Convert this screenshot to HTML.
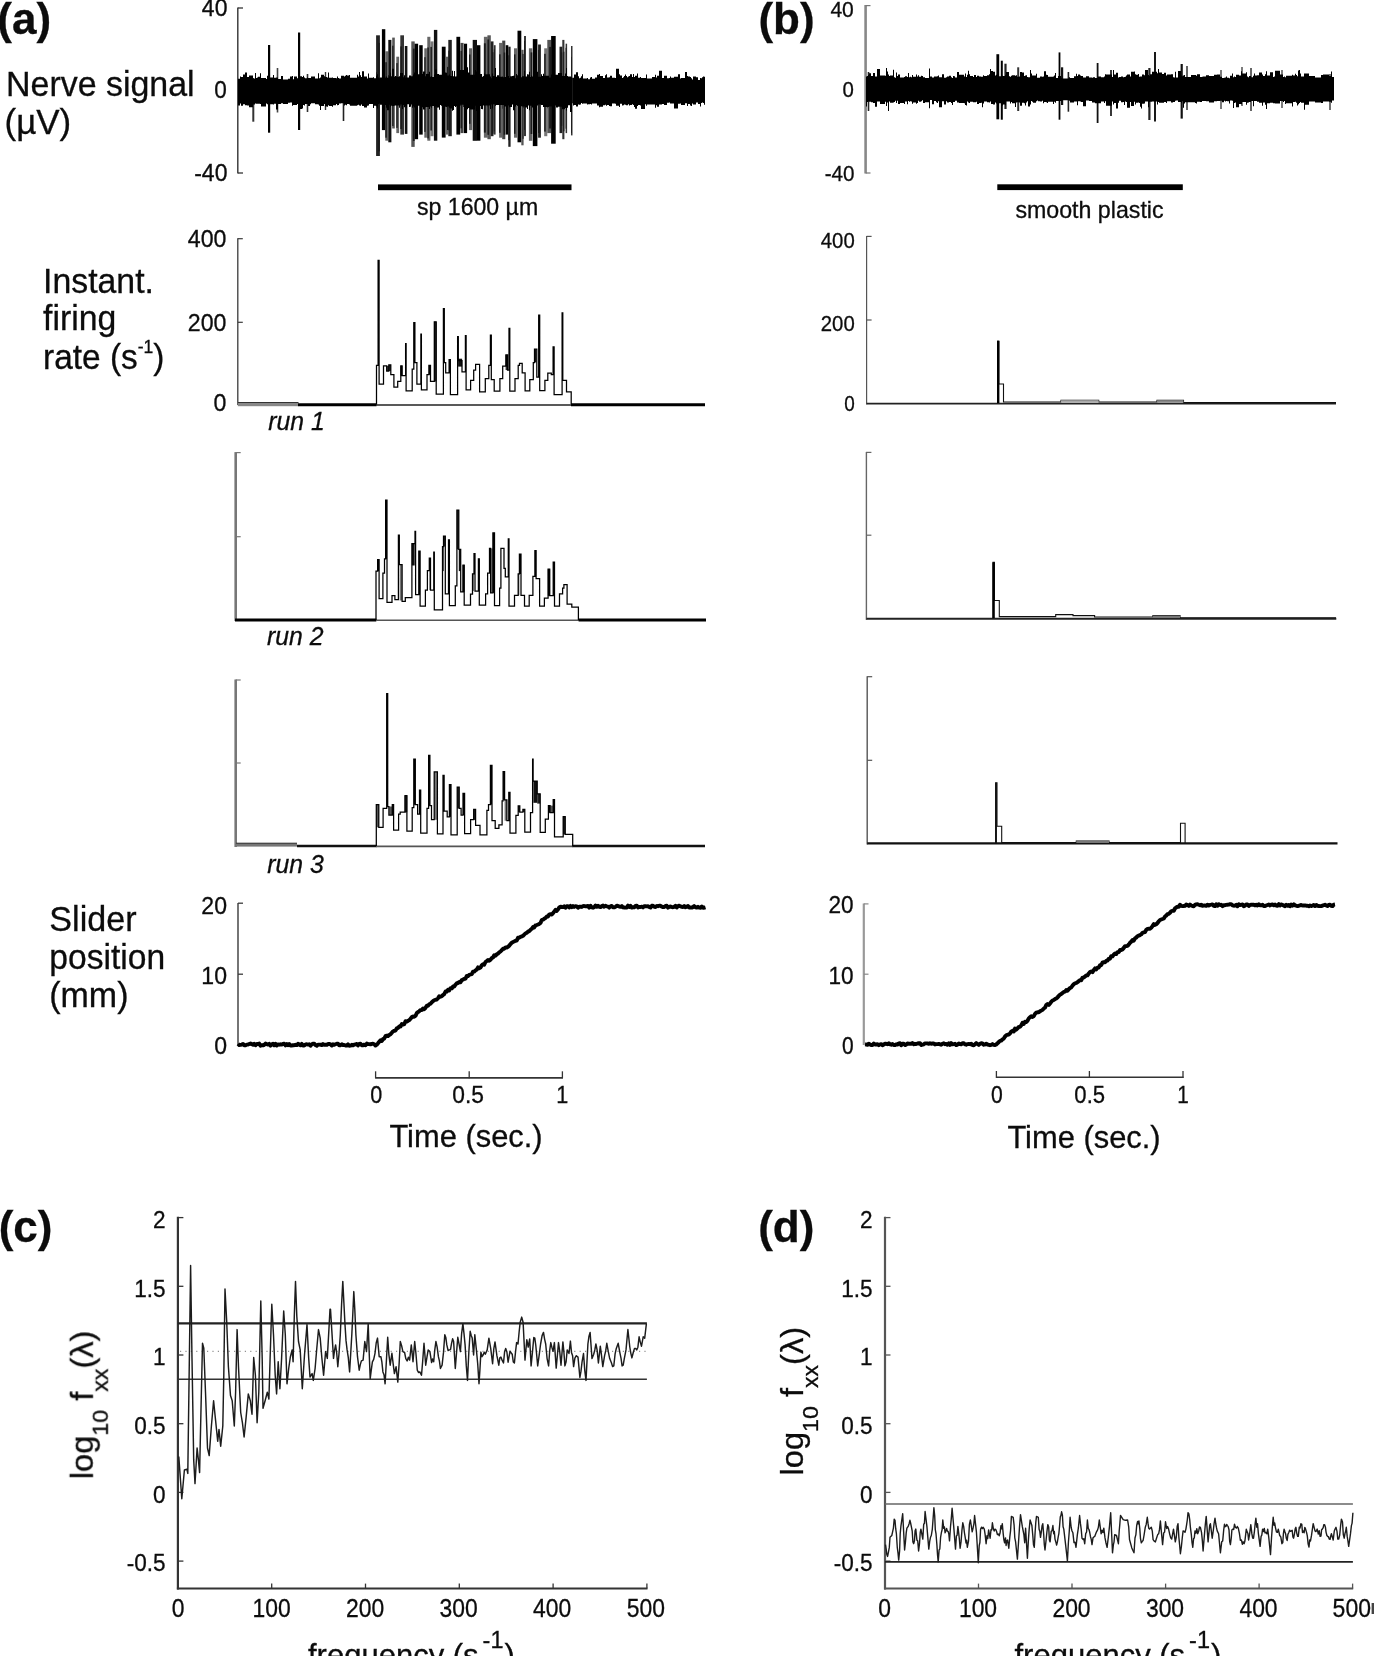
<!DOCTYPE html>
<html lang="en"><head><meta charset="utf-8"><title>Nerve signal figure</title>
<style>html,body{margin:0;padding:0;background:#fff}body{width:1374px;height:1656px;overflow:hidden}svg{display:block}text{font-family:"Liberation Sans",Arial,Helvetica,sans-serif;fill:#0c0c0c;stroke:#0c0c0c;stroke-width:.3px}</style></head><body>
<svg width="1374" height="1656" viewBox="0 0 1374 1656">
<rect width="1374" height="1656" fill="#fff"/>
<defs><filter id="soft" x="0" y="0" width="100%" height="100%" filterUnits="userSpaceOnUse" color-interpolation-filters="sRGB"><feGaussianBlur stdDeviation="0.42"/></filter></defs>
<g filter="url(#soft)">
<text x="-2.7" y="34" font-size="44" font-weight="bold">(a)</text>
<text x="758.4" y="34.3" font-size="44" font-weight="bold">(b)</text>
<text x="-1.3" y="1242.2" font-size="44" font-weight="bold">(c)</text>
<text x="758.2" y="1242.2" font-size="44" font-weight="bold">(d)</text>
<text transform="translate(6,96) scale(0.99,1)" font-size="34.3">Nerve signal</text>
<text transform="translate(4.5,134.3) scale(1.02,1)" font-size="34.3">(µV)</text>
<text transform="translate(43,292.5) scale(0.987,1)" font-size="34.3">Instant.</text>
<text transform="translate(43,329.6) scale(0.985,1)" font-size="34.3">firing</text>
<text transform="translate(43,369.3) scale(0.975,1)" font-size="34.3">rate (s<tspan font-size="18" dy="-16.5">-1</tspan><tspan dy="16.5">)</tspan></text>
<text transform="translate(49.3,931) scale(0.995,1)" font-size="34.3">Slider</text>
<text transform="translate(49.3,969.2) scale(0.98,1)" font-size="34.3">position</text>
<text transform="translate(49.3,1007.4) scale(0.99,1)" font-size="34.3">(mm)</text>
<line x1="237.8" y1="7.5" x2="237.8" y2="173.5" stroke="#333" stroke-width="1.4" />
<line x1="238" y1="8" x2="243" y2="8" stroke="#333" stroke-width="1.3" />
<line x1="238" y1="173" x2="243" y2="173" stroke="#333" stroke-width="1.3" />
<text transform="translate(227.5,16.3) scale(0.96,1)" font-size="24" text-anchor="end">40</text>
<text transform="translate(226.8,97.6) scale(0.94,1)" font-size="24" text-anchor="end">0</text>
<text transform="translate(227.5,181.2) scale(0.96,1)" font-size="24" text-anchor="end">-40</text>
<path stroke="#333" stroke-width="2" fill="none" d="M253.3 78V121.7"/>
<path stroke="#000" stroke-width="2.2" fill="none" d="M269.1 45V132.7"/>
<path stroke="#000" stroke-width="2.2" fill="none" d="M299.1 32.5V130"/>
<path stroke="#222" stroke-width="1.6" fill="none" d="M343.5 80V121"/>
<path stroke="#444" stroke-width="1.6" fill="none" d="M277.5 68V112.5"/>
<path stroke="#333" stroke-width="1.6" fill="none" d="M307.5 74V112"/>
<path stroke="#333" stroke-width="1.4" fill="none" d="M325.5 72V110"/>
<path fill="#000" d="M238 91V78.7H239V78.7H240V76.5H241V77H242V77H243V74.6H244V74.6H245V72.6H246V72.6H247V76.9H248V76.9H249V75.4H250V75.4H251V75.4H252V75.4H253V78.8H254V78.8H255V72.9H256V78H257V77.5H258V76.8H259V76.8H260V73.2H261V77.9H262V77.9H263V77.9H264V77.9H265V77.9H266V79.1H267V75.7H268V77.6H269V77.6H270V77.6H271V77.6H272V77.6H273V75.1H274V77.7H275V77.7H276V77.6H277V77.6H278V79.1H279V79.1H280V79.1H281V75.9H282V75.9H283V79.5H284V79.5H285V79.5H286V79.5H287V79.5H288V78.7H289V78.7H290V76.6H291V76.6H292V76.1H293V79.2H294V76.5H295V76.5H296V76.5H297V78.3H298V76.2H299V76.2H300V76.2H301V76.2H302V77.1H303V75.8H304V77.5H305V78.2H306V78.2H307V77.4H308V78.1H309V78.1H310V78H311V76.5H312V76.5H313V76.5H314V76.5H315V78.6H316V78.6H317V78.6H318V73.3H319V78.2H320V77.5H321V74.7H322V74.7H323V74.7H324V76.3H325V76.9H326V76.9H327V77.4H328V72.6H329V77.8H330V77.8H331V77.8H332V77.5H333V77.9H334V77.9H335V77.9H336V78.3H337V76.6H338V77.9H339V78.6H340V78.6H341V75.8H342V75.8H343V75.8H344V76.5H345V75.7H346V74.9H347V75.5H348V75.5H349V74.9H350V77.7H351V77.7H352V77.7H353V77.7H354V77.7H355V77.7H356V77.7H357V74.8H358V76.4H359V72H360V75.3H361V77.1H362V71.3H363V71.3H364V76.6H365V76.6H366V76.6H367V78.4H368V73.5H369V77.8H370V77.8H371V77.8H372V77.8H373V77.3H374V78.3H375V78.3H376V72.2H377V76.7H378V76.4H379V77.5H380V77.5H381V77.5H382V76.7H383V74.8H384V77.8H385V76.5H386V75.2H387V75.2H388V75.2H389V75.2H390V76.3H391V76.3H392V76.3H393V78.5H394V79.1H395V76H396V76H397V76H398V79H399V79H400V79.4H401V74.8H402V76.6H403V77.3H404V76.7H405V76.7H406V77H407V78.6H408V78.6H409V78.6H410V78.6H411V78.6H412V78.6H413V74.9H414V74.9H415V74.9H416V74.9H417V74.9H418V79.5H419V79.5H420V79.5H421V78.5H422V74.3H423V76.8H424V76.8H425V76.2H426V76.2H427V73.5H428V79.3H429V79.3H430V79.3H431V78.4H432V78.4H433V77.3H434V77.8H435V74.7H436V74.7H437V74.7H438V74.7H439V74.7H440V74.7H441V74.7H442V76.4H443V77.1H444V76H445V76H446V76H447V77.4H448V77.4H449V76.2H450V76.2H451V76.2H452V78.9H453V77.9H454V77.9H455V77.7H456V76.8H457V76.8H458V76.8H459V76.8H460V76.8H461V76.8H462V74.9H463V77.9H464V76.5H465V71.3H466V71.3H467V75.6H468V76.7H469V76.2H470V76.8H471V76.8H472V75.2H473V75.2H474V76H475V77.9H476V77.7H477V78.2H478V78.3H479V73.9H480V73.9H481V73.9H482V77.5H483V75.9H484V76.6H485V77.9H486V77.9H487V75.5H488V77.1H489V73.4H490V77.4H491V77.7H492V77.7H493V76.9H494V76.9H495V76.9H496V77.1H497V75.3H498V75.3H499V75.3H500V78H501V78.3H502V76.6H503V76.6H504V73.4H505V77.2H506V78.7H507V78.4H508V78.4H509V78.4H510V78.7H511V78.7H512V75.9H513V75.9H514V75.9H515V76.6H516V75.2H517V75.2H518V75.2H519V75.2H520V78H521V78H522V76.3H523V77.6H524V77.4H525V76.9H526V77.2H527V77.2H528V74.4H529V74.4H530V74.4H531V79H532V78.5H533V78.3H534V78.3H535V78.3H536V78.3H537V78.3H538V78.3H539V78.3H540V78.3H541V78.9H542V78.9H543V73.7H544V76.8H545V76.8H546V76.7H547V78.2H548V78.8H549V78.2H550V78.2H551V74.5H552V76.8H553V78H554V77.2H555V77.2H556V78H557V78H558V78H559V77.8H560V76.7H561V77.7H562V79.2H563V79.2H564V79.2H565V79H566V79H567V79H568V77.4H569V78.7H570V76.6H571V76.6H572V77.7H573V77.7H574V74.6H575V74.6H576V72.2H577V72.2H578V76.2H579V78.3H580V77.7H581V76.2H582V74.2H583V78.4H584V78.4H585V78.4H586V78.4H587V77.9H588V79.3H589V79.3H590V77.4H591V77.1H592V78.7H593V78.7H594V78.7H595V77.4H596V77.4H597V74.7H598V74.7H599V74H600V76.1H601V76.1H602V76.1H603V77.9H604V77.9H605V75.2H606V74.3H607V77.4H608V77.4H609V77.3H610V75.7H611V75.7H612V77.7H613V77.7H614V77.7H615V78H616V68.8H617V68.8H618V68.8H619V74.2H620V75.6H621V75.6H622V78.1H623V77.2H624V76H625V74.6H626V75.9H627V77.3H628V76.5H629V76H630V74.3H631V74.3H632V77H633V73.9H634V77.1H635V75.8H636V75.8H637V73.4H638V77.7H639V77.7H640V76.9H641V77.9H642V77.9H643V77.9H644V77.9H645V77.9H646V74.6H647V78.6H648V78.6H649V78.6H650V78.6H651V78.6H652V77.1H653V77.1H654V77.1H655V74.7H656V77.4H657V75.8H658V75.8H659V70.7H660V70.7H661V70.7H662V78H663V78H664V75.7H665V75.7H666V75.7H667V78.3H668V78.3H669V77.9H670V76.6H671V77.7H672V77.7H673V77.7H674V76.7H675V76.7H676V76.7H677V76.7H678V74.2H679V74.2H680V78.6H681V77.9H682V77.9H683V77.9H684V77.9H685V72H686V72H687V76H688V76.4H689V76.4H690V76.9H691V78.3H692V79.4H693V76.4H694V76.4H695V76.4H696V77.3H697V77.3H698V79.9H699V79.9H700V78.1H701V78.3H702V77.3H703V76.6H704V76.7H705V91V104.7H704V103.1H703V102.6H702V103H701V106.5H700V104H699V104H698V102.6H697V102.6H696V104.6H695V104.6H694V104.6H693V103.6H692V105.9H691V105.6H690V103.9H689V103.9H688V106H687V103.2H686V103.2H685V104.9H684V104.9H683V104.9H682V104.9H681V103.4H680V103.8H679V103.8H678V108.5H677V108.5H676V108.5H675V108.5H674V103.5H673V103.5H672V103.5H671V103.6H670V102.5H669V102.8H668V102.8H667V104.9H666V104.9H665V104.9H664V104H663V104H662V104.6H661V104.6H660V104.6H659V106.8H658V106.8H657V105.3H656V107.7H655V104.4H654V104.4H653V104.4H652V104.5H651V104.5H650V104.5H649V104.5H648V104.5H647V105.7H646V104.3H645V108.9H644V108.9H643V108.9H642V108.9H641V105.5H640V105.1H639V105.1H638V106H637V108.7H636V108.7H635V107H634V104.9H633V104.3H632V105H631V105H630V105.4H629V104.3H628V105.3H627V105.3H626V104.7H625V104.5H624V105.2H623V105.6H622V103.8H621V103.8H620V106.9H619V105.7H618V105.7H617V105.7H616V103.8H615V103.6H614V103.6H613V103.6H612V106.2H611V106.2H610V106.1H609V104.9H608V104.9H607V105.8H606V104.8H605V105.2H604V105.2H603V106.7H602V106.7H601V106.7H600V107.3H599V105.6H598V105.6H597V103.6H596V103.6H595V103.4H594V103.4H593V103.4H592V104.5H591V103.9H590V104.3H589V104.3H588V104.5H587V103.6H586V103.6H585V103.6H584V103.6H583V103.7H582V102.9H581V104.4H580V104.8H579V104.4H578V106.5H577V106.5H576V104.9H575V104.9H574V105.6H573V103.2H572V108.7H571V108.7H570V103.5H569V104.7H568V103.6H567V103.6H566V103.6H565V103.3H564V103.3H563V103.3H562V103.8H561V105.7H560V105.8H559V103.6H558V103.6H557V103.6H556V103.3H555V103.3H554V102.9H553V107.5H552V103.2H551V105.2H550V105.2H549V106.6H548V108.2H547V104.3H546V103.7H545V103.7H544V104.5H543V105.1H542V105.1H541V103H540V103H539V103H538V103H537V103H536V103H535V103H534V103H533V106H532V104.9H531V103.3H530V103.3H529V103.3H528V104.2H527V104.2H526V105H525V108.7H524V107.7H523V103.6H522V105.1H521V105.1H520V105.4H519V105.4H518V105.4H517V105.4H516V105.9H515V104.6H514V104.6H513V104.6H512V105.7H511V105.7H510V103.4H509V103.4H508V103.4H507V108.1H506V104.7H505V108.7H504V108.8H503V108.8H502V106.8H501V103.6H500V104.9H499V104.9H498V104.9H497V104.2H496V104.3H495V104.3H494V104.3H493V105.4H492V105.4H491V105.4H490V106.1H489V107.3H488V107H487V106.1H486V106.1H485V104H484V105.4H483V109.2H482V103.5H481V103.5H480V103.5H479V104.1H478V103.7H477V105.1H476V104H475V103.8H474V106.2H473V106.2H472V105.5H471V105.5H470V105.4H469V106.8H468V109.3H467V105.6H466V105.6H465V107H464V107H463V105.6H462V105.8H461V105.8H460V105.8H459V105.8H458V105.8H457V105.8H456V107.1H455V103.6H454V103.6H453V103.1H452V105.4H451V105.4H450V105.4H449V104.3H448V104.3H447V105.8H446V105.8H445V105.8H444V106.4H443V103.7H442V104.6H441V104.6H440V104.6H439V104.6H438V107.3H437V107.3H436V107.3H435V108.2H434V104.7H433V104.5H432V104.5H431V102.6H430V102.6H429V102.6H428V103.6H427V103H426V103H425V105.5H424V105.5H423V102.3H422V105.9H421V103.7H420V103.7H419V103.7H418V104.3H417V104.3H416V104.3H415V104.3H414V104.3H413V103.3H412V103.3H411V103.3H410V103.3H409V103.3H408V103.3H407V103.2H406V102.9H405V102.9H404V103.9H403V103.2H402V103.7H401V105.9H400V107.8H399V107.8H398V102.6H397V102.6H396V102.6H395V106H394V103.8H393V104.8H392V104.8H391V104.8H390V103.7H389V103.7H388V103.7H387V103.7H386V104H385V107.6H384V105.4H383V105.8H382V103.9H381V103.9H380V103.9H379V106.1H378V104.6H377V104.2H376V105.7H375V105.7H374V108H373V103.9H372V103.9H371V103.9H370V103.9H369V105.6H368V105.8H367V107.5H366V107.5H365V107.5H364V106H363V106H362V104.6H361V105.7H360V105.4H359V104.8H358V105.2H357V105.8H356V105.8H355V105.8H354V105.8H353V105.8H352V105.8H351V105.8H350V104.6H349V104H348V104H347V105.2H346V104.8H345V105.6H344V103.3H343V103.3H342V103.3H341V103.5H340V103.5H339V105H338V105.2H337V104.1H336V105.2H335V105.2H334V105.2H333V106.8H332V106H331V106H330V106H329V105.3H328V106.7H327V106.5H326V106.5H325V103.9H324V106.1H323V106.1H322V106.1H321V110H320V105.7H319V104.5H318V104.3H317V104.3H316V104.3H315V103.2H314V103.2H313V103.2H312V103.2H311V104.3H310V106H309V106H308V104H307V104H306V104H305V105.5H304V105.1H303V108.4H302V109.1H301V109.1H300V109.1H299V109.1H298V104H297V105.1H296V105.1H295V105.1H294V104.9H293V105.7H292V102.4H291V102.4H290V102.8H289V102.8H288V103.9H287V103.9H286V103.9H285V103.9H284V103.9H283V103.3H282V103.3H281V104H280V104H279V104H278V109.6H277V109.6H276V103.7H275V103.7H274V104.5H273V104.2H272V104.2H271V104.2H270V104.2H269V104.2H268V104.2H267V103.5H266V106.5H265V106.5H264V106.5H263V106.5H262V106.5H261V104.1H260V103.7H259V103.7H258V103.8H257V103.7H256V103.4H255V104.6H254V104.6H253V107.3H252V107.3H251V107.3H250V107.3H249V105.6H248V105.6H247V105.2H246V105.2H245V104.3H244V104.3H243V105.7H242V105.7H241V103.4H240V105.6H239V105.6H238Z"/>
<rect x="376.1" y="35.3" width="3.8" height="120.7" fill="#222"/>
<rect x="378" y="42.9" width="1.9" height="108.4" fill="#1a1a1a"/>
<rect x="381.9" y="29.2" width="3.4" height="100.9" fill="#000"/>
<rect x="385.3" y="51.3" width="3.1" height="89.4" fill="#666"/>
<rect x="385.3" y="62.2" width="1.5" height="75.5" fill="#1a1a1a"/>
<rect x="388.3" y="39.9" width="3.1" height="102.4" fill="#111"/>
<rect x="392.2" y="37.6" width="2.6" height="90.9" fill="#555"/>
<rect x="392.2" y="45.7" width="1.3" height="80.3" fill="#1a1a1a"/>
<rect x="396.3" y="56.7" width="2.8" height="76.4" fill="#666"/>
<rect x="396.3" y="63.1" width="1.4" height="64.8" fill="#1a1a1a"/>
<rect x="400.3" y="35.3" width="3.7" height="99.3" fill="#333"/>
<rect x="400.3" y="46.4" width="1.8" height="82.6" fill="#1a1a1a"/>
<rect x="404.8" y="46" width="2.6" height="87.9" fill="#111"/>
<rect x="411.3" y="41.4" width="3.4" height="105.5" fill="#555"/>
<rect x="412.9" y="48.6" width="1.7" height="92.4" fill="#1a1a1a"/>
<rect x="414.6" y="43.7" width="3.5" height="95.5" fill="#000"/>
<rect x="419.2" y="45.2" width="3.5" height="89.4" fill="#000"/>
<rect x="424.3" y="48.3" width="2.6" height="89.4" fill="#666"/>
<rect x="424.3" y="57.2" width="1.3" height="74.7" fill="#1a1a1a"/>
<rect x="427.3" y="36.8" width="3.1" height="103.9" fill="#666"/>
<rect x="427.3" y="47.5" width="1.5" height="90.9" fill="#1a1a1a"/>
<rect x="430.4" y="41.4" width="3.1" height="94.8" fill="#777"/>
<rect x="430.4" y="46.9" width="1.5" height="83.6" fill="#1a1a1a"/>
<rect x="433.9" y="29.9" width="3.4" height="110.8" fill="#111"/>
<rect x="441.8" y="46.7" width="3.8" height="90.9" fill="#000"/>
<rect x="445.7" y="56.7" width="2.6" height="77.9" fill="#666"/>
<rect x="447" y="66.9" width="1.3" height="63.1" fill="#1a1a1a"/>
<rect x="448.3" y="39.9" width="3.5" height="96.3" fill="#222"/>
<rect x="448.3" y="50.6" width="1.8" height="79.7" fill="#1a1a1a"/>
<rect x="456.4" y="36.8" width="3.8" height="97.8" fill="#000"/>
<rect x="460.5" y="42.9" width="3.1" height="90.2" fill="#444"/>
<rect x="460.5" y="50.9" width="1.5" height="77.4" fill="#1a1a1a"/>
<rect x="464" y="43.7" width="3.1" height="89.4" fill="#000"/>
<rect x="469" y="48.3" width="3.1" height="81.8" fill="#666"/>
<rect x="469" y="54.5" width="1.5" height="69.3" fill="#1a1a1a"/>
<rect x="472.7" y="39.9" width="4.3" height="100.9" fill="#111"/>
<rect x="477" y="45.2" width="3.4" height="95.5" fill="#000"/>
<rect x="483.9" y="36.8" width="3.8" height="100.9" fill="#666"/>
<rect x="483.9" y="43.3" width="1.9" height="89.3" fill="#1a1a1a"/>
<rect x="487.4" y="35.3" width="3.4" height="103.9" fill="#555"/>
<rect x="487.4" y="39.5" width="1.7" height="95.3" fill="#1a1a1a"/>
<rect x="490.7" y="41.4" width="2.8" height="94.8" fill="#222"/>
<rect x="492.1" y="52.2" width="1.4" height="81.6" fill="#1a1a1a"/>
<rect x="493.8" y="45.2" width="1.8" height="89.4" fill="#333"/>
<rect x="493.8" y="49.4" width="0.9" height="82" fill="#1a1a1a"/>
<rect x="499.1" y="42.9" width="3.1" height="94.8" fill="#666"/>
<rect x="499.1" y="54.3" width="1.5" height="78.5" fill="#1a1a1a"/>
<rect x="502.2" y="40.6" width="3.1" height="98.6" fill="#444"/>
<rect x="503.7" y="52.5" width="1.5" height="82.2" fill="#1a1a1a"/>
<rect x="505.7" y="45.2" width="2.6" height="89.4" fill="#000"/>
<rect x="508.3" y="46.7" width="2.3" height="100.1" fill="#222"/>
<rect x="508.3" y="55.3" width="1.1" height="84.9" fill="#1a1a1a"/>
<rect x="514" y="48.3" width="3.1" height="89.4" fill="#666"/>
<rect x="514" y="54.4" width="1.5" height="79.4" fill="#1a1a1a"/>
<rect x="517.5" y="30.7" width="3.8" height="111.6" fill="#000"/>
<rect x="521.3" y="49.8" width="2.3" height="95.5" fill="#555"/>
<rect x="522.5" y="53.9" width="1.1" height="84.9" fill="#1a1a1a"/>
<rect x="524.1" y="36" width="1.8" height="100.1" fill="#222"/>
<rect x="524.1" y="41" width="0.9" height="88.9" fill="#1a1a1a"/>
<rect x="528.9" y="48.3" width="3.4" height="92.5" fill="#666"/>
<rect x="530.6" y="52.4" width="1.7" height="81.6" fill="#1a1a1a"/>
<rect x="532.8" y="39.1" width="4.6" height="107" fill="#000"/>
<rect x="538.1" y="44.5" width="2.8" height="93.2" fill="#222"/>
<rect x="538.1" y="49.9" width="1.4" height="83.1" fill="#1a1a1a"/>
<rect x="544.2" y="48.3" width="3.1" height="87.9" fill="#777"/>
<rect x="544.2" y="53.8" width="1.5" height="77.8" fill="#1a1a1a"/>
<rect x="547.3" y="39.9" width="3.8" height="93.2" fill="#555"/>
<rect x="549.2" y="46.9" width="1.9" height="81.6" fill="#1a1a1a"/>
<rect x="551.1" y="36" width="4.6" height="107.7" fill="#000"/>
<rect x="559.5" y="46.7" width="2.8" height="86.4" fill="#222"/>
<rect x="560.9" y="52.4" width="1.4" height="73.5" fill="#1a1a1a"/>
<rect x="562.3" y="39.9" width="2.1" height="99.3" fill="#333"/>
<rect x="563.3" y="51.7" width="1.1" height="79.6" fill="#1a1a1a"/>
<rect x="565.6" y="43.7" width="1.5" height="89.4" fill="#333"/>
<rect x="565.6" y="47.8" width="0.8" height="80.9" fill="#1a1a1a"/>
<rect x="571" y="46" width="1.5" height="89.4" fill="#333"/>
<rect x="571" y="56.8" width="0.8" height="76.3" fill="#1a1a1a"/>
<path fill="#000" d="M376 91V75.8H377V74.2H378V77.6H379V78.2H380V78.4H381V78.4H382V74H383V77.8H384V77.8H385V77.8H386V76.6H387V77.7H388V77.7H389V76.3H390V72.7H391V77.2H392V68.8H393V68.8H394V76.8H395V76.8H396V76.8H397V76.8H398V76.8H399V76.2H400V73.1H401V73.1H402V72.9H403V77.2H404V75.3H405V77.7H406V77.4H407V77.6H408V77.6H409V75.6H410V75.4H411V76.3H412V76.2H413V74.5H414V72.6H415V72.6H416V72.6H417V74.3H418V74.3H419V74.3H420V74.5H421V74.5H422V74H423V71.6H424V71.6H425V76.2H426V74H427V74H428V74H429V71.8H430V76.7H431V76.3H432V77.1H433V77.1H434V74.4H435V69.6H436V69.6H437V73.9H438V73.9H439V76.1H440V75H441V75.4H442V73.2H443V72.6H444V72.6H445V72.6H446V72.8H447V75.4H448V75.4H449V74.5H450V76H451V76H452V70.7H453V76.2H454V70.9H455V76.6H456V76.6H457V75.6H458V74.9H459V74.9H460V69.9H461V69.9H462V69.9H463V69.9H464V69.9H465V75.7H466V67.3H467V67.3H468V72.5H469V72.5H470V74.7H471V74.7H472V74.7H473V74.7H474V74.7H475V70.1H476V71.6H477V73.4H478V75.1H479V75.1H480V75.1H481V76.8H482V76.8H483V77H484V73.4H485V74.2H486V74.2H487V74.2H488V74.2H489V74.2H490V76.5H491V78.2H492V73.4H493V76H494V76H495V67.9H496V76.8H497V76.8H498V76.8H499V76.8H500V76.8H501V76.8H502V76.8H503V77.3H504V76.9H505V76.9H506V76.9H507V76H508V76H509V77.9H510V76.2H511V76.2H512V76.1H513V75.8H514V75.8H515V78.2H516V74H517V78.3H518V78.3H519V78.3H520V77.3H521V77.3H522V76.3H523V76.3H524V70.7H525V76.6H526V76.6H527V74.3H528V76.6H529V71.7H530V77H531V75.4H532V76.5H533V76.6H534V71.8H535V71.8H536V71.8H537V71.8H538V76.7H539V76.7H540V76.7H541V74.2H542V76.1H543V75.7H544V75.7H545V75.7H546V75.7H547V75.7H548V75.7H549V77.4H550V77.4H551V77.4H552V77.4H553V68H554V68H555V74.8H556V74.7H557V74.7H558V73.1H559V73.1H560V73.1H561V73.1H562V76H563V76H564V76H565V73.5H566V68H567V75.9H568V76.5H569V76.5H570V77.2H571V77.2H572V91V111.9H571V111.9H570V105.3H569V105.3H568V107.8H567V110.4H566V108H565V109.2H564V109.2H563V109.2H562V106.7H561V106.7H560V106.7H559V106.7H558V107.4H557V107.4H556V105.6H555V105.5H554V105.5H553V106.6H552V106.6H551V106.6H550V106.6H549V107.1H548V107.1H547V107.1H546V107.1H545V107.1H544V107.1H543V105.1H542V104.7H541V104.5H540V104.5H539V104.5H538V105.5H537V105.5H536V105.5H535V105.5H534V104.8H533V107.6H532V105.8H531V105.8H530V110.3H529V105.4H528V108.9H527V107.5H526V107.5H525V106.6H524V106.4H523V106.4H522V106.3H521V106.3H520V105.7H519V105.7H518V105.7H517V105H516V106.5H515V110.3H514V110.3H513V103.7H512V107H511V107H510V107.3H509V105.4H508V105.4H507V106.6H506V106.6H505V106.6H504V105H503V104.9H502V104.9H501V104.9H500V104.9H499V104.9H498V104.9H497V104.9H496V105.8H495V104.3H494V104.3H493V108.5H492V104.6H491V109.1H490V105.5H489V105.5H488V105.5H487V105.5H486V105.5H485V105.8H484V105H483V109H482V109H481V105.9H480V105.9H479V105.9H478V111.9H477V111H476V105.8H475V109.5H474V109.5H473V109.5H472V109.5H471V109.5H470V108.1H469V108.1H468V105.4H467V105.4H466V105.4H465V104.8H464V104.8H463V104.8H462V104.8H461V104.8H460V107.9H459V107.9H458V106.2H457V106.3H456V106.3H455V106H454V109.9H453V110.8H452V108.5H451V108.5H450V107.7H449V106.6H448V106.6H447V107H446V106.7H445V106.7H444V106.7H443V105.9H442V105.8H441V105.1H440V109.7H439V107.5H438V107.5H437V106.5H436V106.5H435V107.7H434V105.9H433V105.9H432V107.8H431V106.6H430V109.1H429V106.9H428V106.9H427V106.9H426V107.3H425V109.4H424V109.4H423V107.2H422V106.1H421V106.1H420V105.8H419V105.8H418V105.8H417V107.5H416V107.5H415V107.5H414V106.3H413V107.8H412V104.6H411V106.8H410V107H409V104.3H408V104.3H407V107.5H406V106.3H405V107.2H404V105.1H403V109H402V104.6H401V104.6H400V105.2H399V105.6H398V105.6H397V105.6H396V105.6H395V105.6H394V105.9H393V105.9H392V105.7H391V106.8H390V104.8H389V110.2H388V110.2H387V107.7H386V104.9H385V104.9H384V104.9H383V104H382V104.7H381V104.7H380V103.6H379V104.1H378V108.5H377V106.2H376Z"/>
<rect x="378" y="184.4" width="193.5" height="5.8" fill="#000"/>
<text x="417" y="214.8" font-size="23.1">sp 1600 µm</text>
<line x1="865.6" y1="5" x2="865.6" y2="173.5" stroke="#888" stroke-width="2.6" />
<line x1="865.6" y1="5.6" x2="870.5" y2="5.6" stroke="#777" stroke-width="1.2" />
<line x1="865.6" y1="173" x2="870.5" y2="173" stroke="#777" stroke-width="1.2" />
<text transform="translate(853.8,16.6) scale(0.98,1)" font-size="21.5" text-anchor="end">40</text>
<text transform="translate(853.8,97.3) scale(0.95,1)" font-size="21.5" text-anchor="end">0</text>
<text transform="translate(854.5,180.6) scale(0.96,1)" font-size="21.5" text-anchor="end">-40</text>
<path stroke="#000" stroke-width="2.8" fill="none" d="M997.8 54.2V119.3"/>
<path stroke="#000" stroke-width="2" fill="none" d="M1001.8 60.7V119.7"/>
<path stroke="#222" stroke-width="2.2" fill="none" d="M1005.5 63.7V109"/>
<path stroke="#333" stroke-width="2" fill="none" d="M1018.2 67.3V111"/>
<path stroke="#000" stroke-width="1.8" fill="none" d="M1059.5 52.4V119.7"/>
<path stroke="#111" stroke-width="2.2" fill="none" d="M1062.1 67.3V105"/>
<path stroke="#222" stroke-width="1.6" fill="none" d="M1068.4 72V111.7"/>
<path stroke="#111" stroke-width="1.8" fill="none" d="M1097.6 63V123"/>
<path stroke="#222" stroke-width="1.8" fill="none" d="M1111 70V116"/>
<path stroke="#222" stroke-width="2.2" fill="none" d="M1149.4 68V120"/>
<path stroke="#000" stroke-width="1.8" fill="none" d="M1155 52V121.5"/>
<path stroke="#111" stroke-width="2.2" fill="none" d="M1181.7 64V118.6"/>
<path stroke="#333" stroke-width="1.5" fill="none" d="M1187 66V110"/>
<path stroke="#333" stroke-width="1.5" fill="none" d="M1251 68V111"/>
<path stroke="#222" stroke-width="1.6" fill="none" d="M868.5 72V111"/>
<path stroke="#333" stroke-width="1.4" fill="none" d="M1330 74V110"/>
<path stroke="#444" stroke-width="1.4" fill="none" d="M1282 70V108"/>
<path stroke="#444" stroke-width="1.4" fill="none" d="M1221 70V109"/>
<path stroke="#444" stroke-width="1.4" fill="none" d="M1242 67V106"/>
<path fill="#000" d="M866 89.2V76.4H867V75.9H868V75.1H869V73.3H870V73.3H871V76H872V76H873V72.9H874V72.9H875V76.6H876V76.6H877V68.9H878V68.9H879V68.9H880V75.5H881V75.5H882V75.5H883V75.5H884V75.5H885V75.7H886V68H887V71.6H888V74.6H889V75.9H890V75.6H891V75.6H892V75.6H893V69.8H894V77.3H895V77.7H896V72.6H897V76H898V74.4H899V74.4H900V77.4H901V77.4H902V77.4H903V77.4H904V77H905V76.2H906V76.2H907V77H908V72.9H909V77.2H910V76.7H911V77.2H912V74.9H913V76.8H914V76.8H915V76.8H916V74.4H917V76.6H918V75.3H919V76.8H920V76.8H921V75.7H922V76H923V77.3H924V77.3H925V78.1H926V78.1H927V78.1H928V78.1H929V68.4H930V76.5H931V76.5H932V77.6H933V77.6H934V76.4H935V76.4H936V76.4H937V76.3H938V75.5H939V77.2H940V77.2H941V77.2H942V74.3H943V74.3H944V77.8H945V77.8H946V77.3H947V76.5H948V76.5H949V75.7H950V75.7H951V77.3H952V78H953V76H954V76.3H955V77.4H956V77.4H957V72H958V72H959V74.8H960V74.8H961V74.8H962V74.8H963V74.8H964V76.4H965V73.4H966V76.9H967V74.7H968V70.7H969V74.2H970V75.9H971V75.9H972V75.9H973V76.9H974V75H975V75H976V77H977V75.8H978V75.8H979V76.5H980V76.5H981V76.8H982V76.7H983V75.2H984V75.9H985V75.9H986V75.9H987V75.2H988V75.2H989V74.3H990V69H991V71.1H992V71.1H993V71.7H994V71.7H995V75.6H996V74.7H997V74.7H998V75.1H999V76.2H1000V76.2H1001V76.5H1002V75.7H1003V76H1004V76H1005V74.8H1006V72.1H1007V72.1H1008V72.1H1009V76.2H1010V76.7H1011V75.7H1012V75.2H1013V75.2H1014V75.2H1015V75.8H1016V75.3H1017V76.7H1018V76.7H1019V76.5H1020V71.9H1021V71.9H1022V72.6H1023V72.6H1024V75.9H1025V75.6H1026V75.2H1027V77.1H1028V77.2H1029V77.2H1030V69.9H1031V73.6H1032V75.4H1033V75.4H1034V75.4H1035V75.4H1036V73.8H1037V77.7H1038V77.8H1039V77.8H1040V76.5H1041V76.5H1042V76.8H1043V76.5H1044V71.3H1045V71.3H1046V74.8H1047V74.9H1048V76.7H1049V76.7H1050V76.7H1051V76.7H1052V76.7H1053V76.6H1054V75.6H1055V73.1H1056V77.9H1057V77.9H1058V75.9H1059V75.9H1060V75.9H1061V78.1H1062V78.4H1063V78.4H1064V78.4H1065V78.4H1066V78.4H1067V78.4H1068V78.4H1069V77.2H1070V78H1071V78H1072V78H1073V78H1074V76.2H1075V76.2H1076V73.8H1077V76.1H1078V74.4H1079V74.4H1080V75.4H1081V76H1082V76H1083V77.5H1084V77.5H1085V77.5H1086V76.3H1087V76.3H1088V76.3H1089V77.4H1090V77.4H1091V77.4H1092V77.8H1093V77.3H1094V77.3H1095V78.1H1096V78.1H1097V78.1H1098V76.4H1099V76.4H1100V76.4H1101V77.2H1102V77.2H1103V77.2H1104V76.6H1105V74.2H1106V74.4H1107V74.4H1108V74.4H1109V74.4H1110V74.4H1111V74.4H1112V77.1H1113V70.1H1114V74.5H1115V74.5H1116V72.7H1117V72.7H1118V77.4H1119V77H1120V77H1121V76.5H1122V76.5H1123V77.3H1124V76.9H1125V76.7H1126V75.6H1127V74.4H1128V74.4H1129V74.4H1130V76.4H1131V71.8H1132V71.8H1133V71.8H1134V71.5H1135V74.2H1136V74.7H1137V74.7H1138V74H1139V76.8H1140V76.6H1141V76.5H1142V74.5H1143V74.5H1144V75.2H1145V69.9H1146V69.9H1147V69.9H1148V75H1149V76H1150V74.2H1151V74.2H1152V71.7H1153V71.7H1154V71.7H1155V71.7H1156V71.7H1157V73.2H1158V69.1H1159V72.4H1160V72.4H1161V72.4H1162V73.9H1163V73.9H1164V72.8H1165V72.8H1166V75.4H1167V74.4H1168V74.4H1169V74.4H1170V74.4H1171V74.2H1172V74.2H1173V77.2H1174V77.5H1175V71.7H1176V77.5H1177V77.5H1178V71.1H1179V71.1H1180V71.1H1181V75.7H1182V76.3H1183V75.4H1184V74.9H1185V76.9H1186V76.9H1187V76.9H1188V76.9H1189V76.9H1190V76.9H1191V74.9H1192V74.9H1193V74.9H1194V74.9H1195V75H1196V75.8H1197V74.2H1198V74.2H1199V74.2H1200V76.9H1201V76.9H1202V76.8H1203V76.5H1204V76.5H1205V76.5H1206V75.3H1207V75.3H1208V75.3H1209V76H1210V76H1211V76H1212V76H1213V76H1214V74.7H1215V74.7H1216V74.7H1217V74.4H1218V74.4H1219V74.4H1220V76.8H1221V76.8H1222V77.9H1223V77.9H1224V77.7H1225V77.6H1226V76.6H1227V77.8H1228V77.8H1229V78.2H1230V75.7H1231V75.7H1232V73.4H1233V77.2H1234V76.4H1235V77.1H1236V74.8H1237V74.8H1238V74.8H1239V75.6H1240V75.6H1241V71.3H1242V73.6H1243V73.6H1244V73.6H1245V73.6H1246V72.3H1247V76.6H1248V77.3H1249V76.1H1250V76.1H1251V77.3H1252V77.3H1253V75.7H1254V73.6H1255V75.5H1256V75.5H1257V75.2H1258V75.2H1259V72.4H1260V72.4H1261V72.4H1262V74.4H1263V75.9H1264V75.9H1265V74.2H1266V71.3H1267V75.5H1268V75.5H1269V75.5H1270V72.3H1271V72.3H1272V72.3H1273V76.9H1274V76.5H1275V70.7H1276V70.7H1277V70.7H1278V70.7H1279V70.7H1280V74.4H1281V74.4H1282V74.4H1283V76.9H1284V76.5H1285V77.2H1286V75.8H1287V75.8H1288V75.8H1289V75.8H1290V75.8H1291V75.8H1292V74.8H1293V75.6H1294V75.6H1295V73.8H1296V75H1297V76.3H1298V70.5H1299V70.1H1300V73.4H1301V76.4H1302V76.4H1303V76.4H1304V73.5H1305V73.6H1306V73.6H1307V73.6H1308V73.6H1309V75.9H1310V75.9H1311V75.9H1312V75.9H1313V75.9H1314V75.9H1315V77.6H1316V77.6H1317V77.6H1318V77.6H1319V77.6H1320V77.6H1321V75.1H1322V75.1H1323V74.4H1324V74.4H1325V74.4H1326V74.4H1327V74.4H1328V74.4H1329V75.9H1330V75.9H1331V71.4H1332V77H1333V77H1334V89.2V100.6H1333V100.6H1332V102.8H1331V101.7H1330V101.7H1329V101.4H1328V101.4H1327V101.4H1326V101.4H1325V101.4H1324V101.4H1323V103.1H1322V103.1H1321V102.5H1320V102.5H1319V102.5H1318V102.5H1317V102.5H1316V102.5H1315V101.6H1314V101.6H1313V101.6H1312V101.6H1311V101.6H1310V101.6H1309V104.7H1308V104.7H1307V104.7H1306V104.7H1305V109.8H1304V102.8H1303V102.8H1302V102.8H1301V102.1H1300V103.1H1299V104.3H1298V105.6H1297V102.7H1296V101.8H1295V101.9H1294V101.9H1293V106.4H1292V103.3H1291V103.3H1290V103.3H1289V103.3H1288V103.3H1287V103.3H1286V103.9H1285V101.1H1284V102.1H1283V101H1282V101H1281V101H1280V103.4H1279V103.4H1278V103.4H1277V103.4H1276V103.4H1275V103.2H1274V103.2H1273V102.7H1272V102.7H1271V102.7H1270V103.3H1269V103.3H1268V103.3H1267V108.9H1266V104.8H1265V102.5H1264V102.5H1263V105.8H1262V102.8H1261V102.8H1260V102.8H1259V101.8H1258V101.8H1257V100.9H1256V100.9H1255V101.1H1254V106.3H1253V101H1252V101H1251V101.9H1250V101.9H1249V102.6H1248V102.8H1247V104.7H1246V102.1H1245V102.1H1244V102.1H1243V102.1H1242V104.2H1241V103.9H1240V103.9H1239V107.2H1238V107.2H1237V107.2H1236V102.6H1235V103.1H1234V107.9H1233V100.8H1232V100.4H1231V100.4H1230V103.4H1229V101.3H1228V101.3H1227V100.9H1226V101.4H1225V100.7H1224V102.3H1223V102.3H1222V100.8H1221V100.8H1220V100.9H1219V100.9H1218V100.9H1217V101.2H1216V101.2H1215V101.2H1214V102.5H1213V102.5H1212V102.5H1211V102.5H1210V102.5H1209V101.3H1208V101.3H1207V101.3H1206V101H1205V101H1204V101H1203V100.9H1202V102H1201V102H1200V101.7H1199V101.7H1198V101.7H1197V103.5H1196V103H1195V102.2H1194V102.2H1193V102.2H1192V102.2H1191V102.3H1190V102.3H1189V102.3H1188V102.3H1187V102.3H1186V102.3H1185V103.6H1184V107.8H1183V101.3H1182V103.1H1181V102.1H1180V102.1H1179V102.1H1178V100.6H1177V100.6H1176V100.8H1175V102.1H1174V101.9H1173V102.5H1172V102.5H1171V101.2H1170V101.2H1169V101.2H1168V101.2H1167V103H1166V101.9H1165V101.9H1164V102.8H1163V102.8H1162V102.7H1161V102.7H1160V102.7H1159V102H1158V104.5H1157V101.6H1156V101.6H1155V101.6H1154V101.6H1153V101.6H1152V101.8H1151V101.8H1150V102H1149V107.2H1148V101.6H1147V101.6H1146V101.6H1145V103.4H1144V103.8H1143V103.8H1142V108.5H1141V106.7H1140V103.1H1139V102.6H1138V102.8H1137V102.8H1136V104.6H1135V101.8H1134V106H1133V106H1132V106H1131V102H1130V107.8H1129V107.8H1128V107.8H1127V102H1126V101.6H1125V104.9H1124V101.9H1123V102.3H1122V102.3H1121V100.8H1120V100.8H1119V102.7H1118V108.5H1117V108.5H1116V103H1115V103H1114V104.6H1113V101.5H1112V105.7H1111V105.7H1110V105.7H1109V105.7H1108V105.7H1107V105.7H1106V101.2H1105V102.9H1104V101.6H1103V101.6H1102V101.6H1101V103.2H1100V103.2H1099V103.2H1098V103.2H1097V103.2H1096V103.2H1095V102.4H1094V102.4H1093V102.4H1092V101.1H1091V101.1H1090V101.1H1089V100.5H1088V100.5H1087V100.5H1086V106.2H1085V106.2H1084V106.2H1083V102.1H1082V102.1H1081V101.4H1080V101.2H1079V101.2H1078V105.2H1077V101.6H1076V101.5H1075V101.5H1074V102.5H1073V102.5H1072V102.5H1071V102.5H1070V100.7H1069V100.2H1068V100.2H1067V100.2H1066V100.2H1065V100.2H1064V100.2H1063V100.2H1062V100.9H1061V101.1H1060V101.1H1059V101.1H1058V100.9H1057V100.9H1056V102.8H1055V101.8H1054V103.9H1053V101.8H1052V101.8H1051V101.8H1050V101.8H1049V101.8H1048V102.9H1047V102.2H1046V102H1045V102H1044V103.2H1043V100.7H1042V101.5H1041V101.5H1040V101.3H1039V101.3H1038V100.4H1037V101.2H1036V102.7H1035V102.7H1034V102.7H1033V101.7H1032V101.1H1031V104.5H1030V106.6H1029V106.6H1028V101.3H1027V102.6H1026V105.5H1025V103.2H1024V102.8H1023V102.8H1022V105.8H1021V105.8H1020V102.4H1019V102.2H1018V102.2H1017V102.4H1016V106.9H1015V103.2H1014V103.2H1013V103.2H1012V102.1H1011V103.6H1010V101.5H1009V101.6H1008V101.6H1007V101.6H1006V105.3H1005V104.5H1004V104.5H1003V105.5H1002V104.7H1001V103.3H1000V103.3H999V101.9H998V103.4H997V103.4H996V102.5H995V104.6H994V104.6H993V104.1H992V104.1H991V101.6H990V102.5H989V102.2H988V102.2H987V101.5H986V101.5H985V101.5H984V103.6H983V107.2H982V102.7H981V102.9H980V102.9H979V103.9H978V103.9H977V101.7H976V102.2H975V102.2H974V102.3H973V101.7H972V101.7H971V101.7H970V103H969V102.4H968V101.5H967V105.5H966V105.1H965V103.3H964V103.1H963V103.1H962V103.1H961V103.1H960V103.1H959V102.5H958V102.5H957V100.8H956V100.8H955V102H954V102.1H953V105H952V102.9H951V102.1H950V102.1H949V102.6H948V102.6H947V101.3H946V104.6H945V104.6H944V101.2H943V101.2H942V107.2H941V107.2H940V107.2H939V101.3H938V102.9H937V102.3H936V101H935V101H934V104.2H933V104.2H932V100.1H931V100.1H930V108.3H929V102.3H928V102.3H927V102.3H926V102.3H925V102.9H924V102.9H923V100.3H922V101.2H921V101.7H920V101.7H919V100.8H918V103H917V103.8H916V102.5H915V102.5H914V102.5H913V103.8H912V101.4H911V101.3H910V101.7H909V101H908V104.3H907V101.6H906V101.6H905V104.1H904V103.1H903V103.1H902V103.1H901V103.1H900V104H899V104H898V100.7H897V103.1H896V100.8H895V102H894V102.5H893V102.8H892V102.8H891V102.8H890V101.5H889V110.9H888V102.6H887V105.9H886V101.7H885V104H884V104H883V104H882V104H881V104H880V101.6H879V101.6H878V101.6H877V106.7H876V106.7H875V102.9H874V102.9H873V102.3H872V102.3H871V101.8H870V101.8H869V101.6H868V101.9H867V106.5H866Z"/>
<rect x="997.3" y="184.3" width="185.5" height="5.8" fill="#000"/>
<text x="1015.4" y="217.8" font-size="23.2">smooth plastic</text>
<line x1="237.8" y1="238.2" x2="237.8" y2="405" stroke="#3a3a3a" stroke-width="1.3" />
<line x1="237.8" y1="238.7" x2="242.8" y2="238.7" stroke="#3a3a3a" stroke-width="1.2" />
<line x1="237.8" y1="322.3" x2="242.8" y2="322.3" stroke="#3a3a3a" stroke-width="1.2" />
<text transform="translate(226.5,247.4) scale(0.965,1)" font-size="24" text-anchor="end">400</text>
<text transform="translate(226.5,330.7) scale(0.965,1)" font-size="24" text-anchor="end">200</text>
<text transform="translate(226.5,411.2) scale(0.965,1)" font-size="24" text-anchor="end">0</text>
<rect x="237.8" y="402.1" width="60.6" height="4.1" fill="#888"/>
<line x1="237.8" y1="402.5" x2="298.4" y2="402.5" stroke="#333" stroke-width="1" />
<line x1="298" y1="404.7" x2="376.5" y2="404.7" stroke="#000" stroke-width="3" />
<line x1="376" y1="405" x2="571.5" y2="405" stroke="#222" stroke-width="1.3" />
<line x1="571" y1="404.7" x2="705" y2="404.7" stroke="#000" stroke-width="3" />
<rect x="434" y="321.8" width="2.5" height="59.6" fill="#555"/>
<rect x="458.1" y="358.7" width="4" height="7.9" fill="#111"/>
<rect x="534.5" y="349.2" width="1.9" height="13.2" fill="#111"/>
<rect x="505.6" y="354.9" width="1.9" height="15.1" fill="#333"/>
<rect x="400.5" y="365.9" width="1.9" height="9.8" fill="#555"/>
<rect x="386.4" y="365.9" width="2.5" height="5.1" fill="#333"/>
<rect x="378.1" y="260.3" width="0.9" height="105" fill="#000"/>
<rect x="388.8" y="364.9" width="2" height="6.1" fill="#222"/>
<rect x="400.8" y="365.9" width="1.3" height="9.8" fill="#000"/>
<rect x="405.6" y="343.5" width="0.5" height="32.2" fill="#000"/>
<rect x="413.8" y="322.7" width="1.1" height="39.7" fill="#000"/>
<rect x="420.9" y="334.1" width="0.5" height="50.1" fill="#000"/>
<rect x="428.9" y="365.3" width="1.6" height="9.5" fill="#000"/>
<rect x="434.3" y="321.8" width="1.9" height="59.6" fill="#222"/>
<rect x="443.4" y="308.5" width="0.8" height="53.9" fill="#000"/>
<rect x="449.1" y="359.6" width="1.3" height="13.2" fill="#000"/>
<rect x="457.6" y="336.5" width="0.7" height="24" fill="#000"/>
<rect x="465.4" y="335.6" width="0.7" height="36.3" fill="#000"/>
<rect x="490.4" y="335" width="0.8" height="30.3" fill="#000"/>
<rect x="505.9" y="354.9" width="1.6" height="11.4" fill="#000"/>
<rect x="509" y="328.4" width="0.8" height="41.6" fill="#000"/>
<rect x="538.7" y="315.1" width="1" height="62.1" fill="#000"/>
<rect x="553.1" y="346.9" width="1" height="27.8" fill="#000"/>
<rect x="562.1" y="312.9" width="0.7" height="67.5" fill="#000"/>
<path fill="none" stroke="#000" stroke-width="1.25" stroke-linejoin="miter" d="M376.5 404.4H376.5V365.3H378.1V260.3H379.1V384.2H383.5V365.9H386.7V371H388.8V364.9H390.8V374.7H393.9V387H397.7V381.4H400.8V365.9H402.1V375.7H405.6V343.5H406.1V390.8H412.2V369.1H413.8V322.7H414.9V362.5H416.9V384.2H420.9V334.1H421.4V389.9H427V374.7H428.9V365.3H430.5V381.4H434.3V321.8H436.2V394.2H443.4V308.5H444.3V362.5H445.7V372.9H449.1V359.6H450.4V394.6H457.6V336.5H458.3V360.6H462V371.9H465.4V335.6H466.1V389.9H470.6V380.4H473.7V370H475.6V364.3H479.6V391.8H485.3V378.5H488.8V365.3H490.4V335H491.3V379.5H494.2V391.2H499.9V378.5H502.7V366.2H505.9V354.9H507.5V370H509V328.4H509.8V391.2H515V378.5H518.2V365.3H519.5V363.4H522.2V372.9H525.1V390.8H529.8V379.5H533.3V362.5H534.5V349.2H536.8V377.2H538.7V315.1H539.7V390.5H544.9V380.4H547.8V373.2H551.3V374.7H553.1V346.9H554.1V394.6H562.1V312.9H562.8V380.4H566.5V391.8H571.2V404.1"/>
<text transform="translate(268.2,429.9) scale(0.98,1)" font-size="25.3" font-style="italic">run 1</text>
<line x1="235.7" y1="452.1" x2="235.7" y2="621" stroke="#777" stroke-width="2.6" />
<line x1="235.7" y1="452.6" x2="240.7" y2="452.6" stroke="#777" stroke-width="1.2" />
<line x1="235.7" y1="536.7" x2="240.7" y2="536.7" stroke="#777" stroke-width="1.2" />
<line x1="235" y1="620.1" x2="376.3" y2="620.1" stroke="#000" stroke-width="3.0" />
<line x1="376" y1="620.2" x2="579" y2="620.2" stroke="#555" stroke-width="1.6" />
<line x1="578.6" y1="620.1" x2="706" y2="620.1" stroke="#000" stroke-width="3.0" />
<rect x="411.9" y="543.7" width="2.8" height="21.8" fill="#111"/>
<rect x="442.2" y="546.5" width="1.5" height="24.6" fill="#111"/>
<rect x="458.8" y="549.3" width="1.9" height="21.8" fill="#111"/>
<rect x="399.6" y="564.5" width="2.5" height="36" fill="#777"/>
<rect x="429.3" y="558.2" width="1.5" height="31.8" fill="#777"/>
<rect x="490.6" y="548.4" width="2.3" height="44.5" fill="#777"/>
<rect x="517.9" y="573.9" width="1.5" height="21.4" fill="#777"/>
<rect x="472.5" y="573.9" width="1.5" height="17" fill="#777"/>
<rect x="462.6" y="565" width="1.9" height="26.9" fill="#333"/>
<rect x="547.8" y="569.2" width="2.3" height="26.5" fill="#222"/>
<rect x="377.6" y="559.7" width="1.5" height="11.4" fill="#000"/>
<rect x="385.6" y="500.1" width="1.4" height="58.7" fill="#000"/>
<rect x="398.4" y="535.1" width="0.9" height="29.3" fill="#000"/>
<rect x="415" y="531.4" width="0.5" height="12.3" fill="#000"/>
<rect x="418.8" y="551.2" width="1.3" height="43.5" fill="#000"/>
<rect x="429.3" y="558.2" width="1.2" height="12.5" fill="#000"/>
<rect x="433.8" y="552.2" width="0.5" height="37.8" fill="#000"/>
<rect x="443.5" y="536.1" width="1.8" height="10.4" fill="#222"/>
<rect x="448.5" y="539.9" width="0.9" height="53.9" fill="#000"/>
<rect x="456.9" y="510.2" width="1.9" height="39.2" fill="#222"/>
<rect x="463" y="565" width="1.2" height="26.9" fill="#000"/>
<rect x="474" y="553.7" width="1" height="20.2" fill="#000"/>
<rect x="478.4" y="558.8" width="0.9" height="32.2" fill="#000"/>
<rect x="489.5" y="548.4" width="1.1" height="24.6" fill="#000"/>
<rect x="492.9" y="532.9" width="1.6" height="60" fill="#000"/>
<rect x="508.3" y="538.9" width="0.7" height="37.8" fill="#000"/>
<rect x="519.4" y="554.1" width="1.6" height="19.9" fill="#000"/>
<rect x="534.9" y="550.7" width="1.2" height="25.7" fill="#000"/>
<rect x="548.1" y="569.2" width="1.7" height="26.5" fill="#000"/>
<rect x="553.2" y="562" width="1.3" height="33.7" fill="#000"/>
<path fill="none" stroke="#000" stroke-width="1.25" stroke-linejoin="miter" d="M376 620H376V571.1H377.6V559.7H379.1V598.5H382.9V573H384.5V558.8H385.6V500.1H387V602.3H392V595.7H394.9V599.5H398.4V535.1H399.3V564.5H402.1V601.4H405.3V597.6H411.9V543.7H415V531.4H415.6V594.7H418.8V551.2H420.1V606.1H425.4V590H427.4V570.7H429.3V558.2H430.5V590H433.8V552.2H434.3V609.9H442.5V546.5H443.5V536.1H445.3V593.8H448.5V539.9H449.4V605.5H455.3V585.9H456.9V510.2H458.8V549.3H460.7V591.9H463V565H464.2V605.2H470.5V594.2H472.5V573.9H474V553.7H475V591H478.4V558.8H479.3V605.2H485.6V593.8H487.6V573H489.5V548.4H490.6V592.9H492.9V532.9H494.5V605.5H499.6V588.1H500.9V548.4H504V568.3H505.3V576.8H508.3V538.9H509V606.1H514.5V595.3H518.2V573.9H519.4V554.1H521V595.3H524.5V606.1H529.2V595.3H532.9V576.4H534.9V550.7H536.1V578.7H539.6V606.1H544.4V598H548.1V569.2H549.7V595.7H553.2V562H554.5V606.1H559.5V593.8H562.6V588.1H563.9V584.7H567.1V604.2H571.8V607H578.4V619.9"/>
<text transform="translate(267,645.4) scale(0.98,1)" font-size="25.3" font-style="italic">run 2</text>
<line x1="235.7" y1="679.5" x2="235.7" y2="847" stroke="#777" stroke-width="2.6" />
<line x1="235.7" y1="680" x2="240.7" y2="680" stroke="#777" stroke-width="1.2" />
<line x1="235.7" y1="763" x2="240.7" y2="763" stroke="#777" stroke-width="1.2" />
<rect x="236" y="843" width="61" height="3.6" fill="#777"/>
<line x1="236" y1="843.2" x2="297" y2="843.2" stroke="#333" stroke-width="1" />
<line x1="297" y1="846" x2="376.5" y2="846" stroke="#111" stroke-width="2.4" />
<line x1="376" y1="846.4" x2="573" y2="846.4" stroke="#555" stroke-width="1.6" />
<line x1="572.5" y1="846" x2="705" y2="846" stroke="#111" stroke-width="2.4" />
<rect x="434.2" y="771.9" width="3.2" height="47.9" fill="#777"/>
<rect x="533.4" y="781" width="3.8" height="21.8" fill="#111"/>
<rect x="537.2" y="793.8" width="3" height="9.8" fill="#222"/>
<rect x="404.7" y="795.7" width="2.5" height="16.5" fill="#111"/>
<rect x="562.9" y="816.5" width="2.6" height="17.8" fill="#777"/>
<rect x="389.2" y="806.5" width="2.8" height="8.5" fill="#555"/>
<rect x="504.6" y="799.9" width="2.3" height="20.8" fill="#777"/>
<rect x="473.4" y="809.3" width="2.5" height="10.4" fill="#333"/>
<rect x="376.3" y="804.6" width="2.5" height="22.7" fill="#555"/>
<rect x="550.4" y="805.6" width="2.5" height="7.2" fill="#555"/>
<rect x="386.7" y="693.5" width="1" height="113" fill="#000"/>
<rect x="392.3" y="804.6" width="1.3" height="10.4" fill="#000"/>
<rect x="405" y="795.7" width="1.9" height="16.5" fill="#222"/>
<rect x="413.8" y="759.2" width="1.5" height="45.4" fill="#000"/>
<rect x="419.5" y="790" width="1.2" height="24" fill="#000"/>
<rect x="428.6" y="755.4" width="1.3" height="50.1" fill="#000"/>
<rect x="443" y="775.3" width="1.1" height="36" fill="#000"/>
<rect x="449.4" y="784.7" width="1.6" height="32.2" fill="#000"/>
<rect x="457.2" y="787" width="2" height="21.4" fill="#222"/>
<rect x="463" y="793.3" width="1.6" height="21.8" fill="#000"/>
<rect x="473.7" y="809.3" width="1.9" height="10.4" fill="#222"/>
<rect x="490.4" y="765.4" width="1.6" height="39.2" fill="#000"/>
<rect x="503.1" y="771.5" width="1.5" height="28.4" fill="#000"/>
<rect x="508.8" y="792.3" width="1.2" height="28.4" fill="#000"/>
<rect x="518.2" y="805.9" width="1.6" height="6.2" fill="#000"/>
<rect x="522.9" y="809.3" width="1.9" height="2.8" fill="#222"/>
<rect x="532.6" y="759.2" width="0.5" height="21.8" fill="#000"/>
<rect x="548.4" y="805.6" width="1.7" height="7.2" fill="#000"/>
<rect x="553.2" y="799.5" width="1.3" height="13.2" fill="#000"/>
<rect x="563.2" y="816.5" width="2" height="17.8" fill="#222"/>
<path fill="none" stroke="#000" stroke-width="1.25" stroke-linejoin="miter" d="M376.3 846H376.3V804.6H378.8V827.3H383.1V808.4H386.7V693.5H387.7V806.5H388.9V815H392.3V804.6H393.6V830.2H398.6V814.1H400.2V812.2H405V795.7H406.9V831.1H412.2V807.5H413.8V759.2H415.3V804.6H417.6V814.1H419.5V790H420.7V833H427V808.4H428.6V755.4H429.9V805.6H431.5V819.7H434.2V771.9H437.4V833.9H443V775.3H444.1V811.2H447.2V816.9H449.4V784.7H451V834.9H457.2V787H459.2V808.4H461.1V815H463V793.3H464.6V833.6H470.6V819.7H473.7V809.3H475.6V825.4H480V834.9H486.9V810.3H488.5V804.6H490.4V765.4H492V820.7H495.2V828.3H498.9V824.9H502.1V800.8H503.1V771.5H504.6V799.9H506.9V820.7H508.8V792.3H510V833H515.9V815.4H518.2V805.9H519.8V812.2H522.9V809.3H524.8V832H530.5V812.7H532.6V759.2H533.1V781H537.2V793.8H540.2V832.4H545.3V819.2H548.4V805.6H550.1V812.7H553.2V799.5H554.5V836.8H563.2V816.5H565.2V834.3H572.7V846.2"/>
<text transform="translate(267.2,872.8) scale(0.98,1)" font-size="25.3" font-style="italic">run 3</text>
<line x1="866.6" y1="235.9" x2="866.6" y2="404.5" stroke="#555" stroke-width="1.2" />
<line x1="866.6" y1="236.4" x2="871.6" y2="236.4" stroke="#555" stroke-width="1.2" />
<line x1="866.6" y1="320" x2="871.6" y2="320" stroke="#555" stroke-width="1.2" />
<text transform="translate(854.7,247.6) scale(0.945,1)" font-size="21.5" text-anchor="end">400</text>
<text transform="translate(854.7,330.6) scale(0.945,1)" font-size="21.5" text-anchor="end">200</text>
<text transform="translate(854.7,411.2) scale(0.88,1)" font-size="21.5" text-anchor="end">0</text>
<line x1="866.6" y1="403.6" x2="1336" y2="403.6" stroke="#222" stroke-width="1.8" />
<path fill="none" stroke="#111" stroke-width="1.1" d="M997.6 403.6V341H998.8V384H1003.5V402H1061V400.3H1098.7V402H1157V400.3H1183.5V402.6H1336"/>
<line x1="998.2" y1="341" x2="998.2" y2="403" stroke="#000" stroke-width="2.4" />
<rect x="1061" y="400.3" width="37.7" height="2.4" fill="#aaa"/><rect x="1157" y="400.3" width="26.5" height="2.4" fill="#888"/>
<line x1="866.4" y1="451.9" x2="866.4" y2="619.9" stroke="#666" stroke-width="1.4" />
<line x1="866.4" y1="452.4" x2="871.4" y2="452.4" stroke="#666" stroke-width="1.2" />
<line x1="866.4" y1="535.2" x2="871.4" y2="535.2" stroke="#666" stroke-width="1.2" />
<line x1="866.4" y1="618.8" x2="1336.3" y2="618.8" stroke="#222" stroke-width="2" />
<path fill="none" stroke="#111" stroke-width="1.1" d="M993 618.8V562.4H994.4V600.5H999.3V616.6H1055.7V614.6H1073V615.6H1094.6V617H1152.9V615.6H1180V617.8H1336"/>
<line x1="993.6" y1="562.4" x2="993.6" y2="618" stroke="#000" stroke-width="2.4" />
<rect x="1152.9" y="615.6" width="27.1" height="2.4" fill="#777"/>
<line x1="867.2" y1="676.2" x2="867.2" y2="844.5" stroke="#555" stroke-width="1.4" />
<line x1="867.2" y1="676.7" x2="872.2" y2="676.7" stroke="#555" stroke-width="1.2" />
<line x1="867.2" y1="760.3" x2="872.2" y2="760.3" stroke="#555" stroke-width="1.2" />
<line x1="867.2" y1="843.4" x2="1337.5" y2="843.4" stroke="#111" stroke-width="2.4" />
<path fill="none" stroke="#111" stroke-width="1.1" d="M995.6 843.4V782.8H997V826.3H1001.7V842.5H1076.3V841H1109V842.5H1180.5V823.2H1185.1V843"/>
<line x1="996.2" y1="782.8" x2="996.2" y2="843" stroke="#111" stroke-width="1.5" />
<rect x="1076.3" y="840.6" width="32.7" height="2.4" fill="#777"/>
<line x1="238" y1="903" x2="238" y2="1045" stroke="#3a3a3a" stroke-width="1.4" />
<line x1="238" y1="903.2" x2="243" y2="903.2" stroke="#3a3a3a" stroke-width="1.3" />
<line x1="238" y1="974.2" x2="243" y2="974.2" stroke="#3a3a3a" stroke-width="1.3" />
<text transform="translate(227,913.5) scale(0.96,1)" font-size="24" text-anchor="end">20</text>
<text transform="translate(227,983.5) scale(0.96,1)" font-size="24" text-anchor="end">10</text>
<text transform="translate(227,1053.5) scale(0.96,1)" font-size="24" text-anchor="end">0</text>
<polyline fill="none" stroke="#000" stroke-width="3.9" stroke-linejoin="round"  points="238,1043.9 239.2,1045 240.5,1044.9 241.8,1044.6 243,1044 244.2,1045.2 245.5,1045.3 246.8,1044.6 248,1044.6 249.2,1044 250.5,1043.5 251.8,1044.3 253,1044.8 254.2,1043.7 255.5,1045.2 256.8,1044 258,1044 259.2,1043.6 260.5,1045.7 261.8,1045.1 263,1045.4 264.2,1044.9 265.5,1043.6 266.8,1044.2 268,1044.6 269.2,1043.8 270.5,1045.6 271.8,1044.3 273,1043.8 274.2,1045.3 275.5,1043.8 276.8,1045.5 278,1044.5 279.2,1044.7 280.5,1044.3 281.8,1044.6 283,1043.9 284.2,1043.6 285.5,1045.4 286.8,1044 288,1045.2 289.2,1044 290.5,1045.6 291.8,1045.5 293,1045.2 294.2,1045.2 295.5,1044.8 296.8,1045.1 298,1043.8 299.2,1044.5 300.5,1045.3 301.8,1043.9 303,1045.5 304.2,1045.5 305.5,1044.4 306.8,1044.3 308,1044.5 309.2,1044.3 310.5,1045.7 311.8,1044.4 313,1043.6 314.2,1043.7 315.5,1045.1 316.8,1045.7 318,1044.6 319.2,1044.6 320.5,1044.7 321.8,1045.1 323,1044 324.2,1044.8 325.5,1044.7 326.8,1044.9 328,1043.9 329.2,1043.9 330.5,1044.3 331.8,1045.5 333,1044.3 334.2,1044.8 335.5,1044.2 336.8,1043.7 338,1043.6 339.2,1045.3 340.5,1045.2 341.8,1044.3 343,1045 344.2,1045 345.5,1045.5 346.8,1045.6 348,1044.4 349.2,1045.7 350.5,1045.6 351.8,1044.8 353,1045.4 354.2,1044.6 355.5,1044.3 356.8,1044 358,1045.4 359.2,1043.9 360.5,1043.7 361.8,1045.3 363,1045.2 364.2,1044.6 365.5,1045.3 366.8,1043.6 368,1044.1 369.2,1044.1 370.5,1044.4 371.8,1043.9 373,1043.7 374.2,1044.2 375.5,1045.5 376.8,1044.7 378,1043.3 379.2,1041.8 380.5,1040.3 381.8,1041 383,1039.1 384.2,1038.6 385.5,1036.1 386.8,1035.6 388,1036.1 389.2,1035 390.5,1034.3 391.8,1032.7 393,1031.4 394.2,1030.8 395.5,1030.5 396.8,1028.4 398,1027.9 399.2,1026.5 400.5,1026.6 401.8,1024 403,1024.6 404.2,1024.2 405.5,1021.2 406.8,1021.6 408,1020.8 409.2,1020.3 410.5,1018.8 411.8,1017.1 413,1016.5 414.2,1016.8 415.5,1015.8 416.8,1013.1 418,1012.1 419.2,1011.2 420.5,1010.1 421.8,1010.1 423,1008.5 424.2,1009.2 425.5,1007.8 426.8,1005.7 428,1005.7 429.2,1004.3 430.5,1003.7 431.8,1002.2 433,1001.1 434.2,1000.2 435.5,999.7 436.8,999.5 438,998.2 439.2,996.2 440.5,996.7 441.8,996.2 443,995 444.2,994.1 445.5,991.5 446.8,991.6 448,989.7 449.2,990.4 450.5,988.1 451.8,988.4 453,986.4 454.2,986.5 455.5,984.7 456.8,983.2 458,983 459.2,981.9 460.5,982.3 461.8,980 463,979.6 464.2,978.7 465.5,978.7 466.8,975.9 468,976.1 469.2,974.9 470.5,974.5 471.8,974.1 473,971.7 474.2,971.6 475.5,970.3 476.8,969.5 478,967.4 479.2,968.2 480.5,967.6 481.8,965.3 483,964.3 484.2,964.8 485.5,962 486.8,961 488,960 489.2,960.7 490.5,959.7 491.8,958.1 493,957.5 494.2,955.3 495.5,955.7 496.8,954.3 498,953.6 499.2,952.4 500.5,951.5 501.8,950.1 503,948.8 504.2,948.7 505.5,947.4 506.8,947.5 508,946.8 509.2,945.7 510.5,944.1 511.8,942.7 513,942.1 514.2,941.4 515.5,940.8 516.8,940.6 518,937.8 519.2,937.7 520.5,936.8 521.8,936.4 523,935.8 524.2,934.6 525.5,933.4 526.8,932.7 528,931.6 529.2,931.1 530.5,929.8 531.8,928.8 533,927 534.2,927.5 535.5,925.4 536.8,925 538,924.5 539.2,923.9 540.5,923 541.8,919.9 543,919.7 544.2,918.7 545.5,918 546.8,916.5 548,916.5 549.2,914.5 550.5,914.1 551.8,914.6 553,913.2 554.2,911.6 555.5,909.9 556.8,910.9 558,909.4 559.2,907.4 560.5,906.7 561.8,907 563,907.1 564.2,906.2 565.5,907.7 566.8,906.3 568,906.2 569.2,907.5 570.5,905.9 571.8,907.1 573,906 574.2,906.9 575.5,906.2 576.8,906.4 578,907.7 579.2,906.6 580.5,906.6 581.8,907 583,906.2 584.2,906 585.5,906.4 586.8,906.2 588,906 589.2,907.7 590.5,905.7 591.8,907.4 593,907.7 594.2,907.2 595.5,905.6 596.8,906.7 598,905.7 599.2,906.9 600.5,907.1 601.8,906.1 603,905.6 604.2,906.8 605.5,905.8 606.8,906.3 608,906.6 609.2,907.6 610.5,906.4 611.8,905.9 613,907.3 614.2,907.4 615.5,906.8 616.8,905.7 618,906 619.2,906.5 620.5,906.8 621.8,906.1 623,907.4 624.2,907.5 625.5,907.6 626.8,907.5 628,905.6 629.2,906.9 630.5,905.8 631.8,907.6 633,907.2 634.2,907.3 635.5,906 636.8,905.7 638,907.4 639.2,906.9 640.5,907 641.8,906.6 643,907.4 644.2,906.3 645.5,906.2 646.8,906.4 648,906.3 649.2,907 650.5,907.6 651.8,905.8 653,905.7 654.2,906.7 655.5,907.1 656.8,906 658,906.2 659.2,905.7 660.5,905.7 661.8,906.7 663,907.1 664.2,907 665.5,905.9 666.8,905.8 668,907.6 669.2,906.8 670.5,906.5 671.8,907.1 673,907.2 674.2,906.8 675.5,905.8 676.8,907.4 678,906.1 679.2,905.7 680.5,906.4 681.8,906.8 683,907 684.2,906 685.5,907.2 686.8,906.7 688,906 689.2,907.5 690.5,907.4 691.8,907.6 693,907.1 694.2,906.1 695.5,907.3 696.8,907.6 698,906.8 699.2,907.6 700.5,907.7 701.8,906.5 703,907.7 704.2,907.7 705.5,907.3"/>
<line x1="375.2" y1="1077.9" x2="562.9" y2="1077.9" stroke="#333" stroke-width="1.6" />
<line x1="375.6" y1="1071.3" x2="375.6" y2="1078.2" stroke="#333" stroke-width="1.3" />
<line x1="469.2" y1="1071.3" x2="469.2" y2="1078.2" stroke="#333" stroke-width="1.3" />
<line x1="562.4" y1="1071.3" x2="562.4" y2="1078.2" stroke="#333" stroke-width="1.3" />
<text transform="translate(376.2,1103.4) scale(0.9,1)" font-size="24" text-anchor="middle">0</text>
<text transform="translate(468.2,1103.4) scale(0.95,1)" font-size="24" text-anchor="middle">0.5</text>
<text transform="translate(562.3,1103.4) scale(0.9,1)" font-size="24" text-anchor="middle">1</text>
<text transform="translate(389.4,1147.4) scale(0.993,1)" font-size="31.1">Time (sec.)</text>
<line x1="863.8" y1="903.5" x2="863.8" y2="1045" stroke="#999" stroke-width="2.2" />
<line x1="863.8" y1="903.9" x2="868.5" y2="903.9" stroke="#888" stroke-width="1.2" />
<line x1="863.8" y1="974.2" x2="868.5" y2="974.2" stroke="#888" stroke-width="1.2" />
<text transform="translate(853.6,913.2) scale(0.97,1)" font-size="23.3" text-anchor="end">20</text>
<text transform="translate(853.6,984) scale(0.97,1)" font-size="23.3" text-anchor="end">10</text>
<text transform="translate(853.6,1053.8) scale(0.9,1)" font-size="23.3" text-anchor="end">0</text>
<polyline fill="none" stroke="#000" stroke-width="3.9" stroke-linejoin="round"  points="865,1044.4 866.2,1044.5 867.5,1044.9 868.8,1043.7 870,1044.5 871.2,1045.1 872.5,1045.1 873.8,1043.5 875,1044.5 876.2,1044.5 877.5,1044.2 878.8,1045.2 880,1044.3 881.2,1044.1 882.5,1045.2 883.8,1044.5 885,1043.8 886.2,1043.8 887.5,1044.2 888.8,1043.2 890,1044.4 891.2,1044.7 892.5,1044 893.8,1045 895,1045.1 896.2,1044.3 897.5,1044.6 898.8,1043.4 900,1043.2 901.2,1045.3 902.5,1043.7 903.8,1043.6 905,1045.1 906.2,1044.7 907.5,1043.4 908.8,1043.8 910,1043.6 911.2,1043.7 912.5,1043.1 913.8,1044.3 915,1043.8 916.2,1044 917.5,1043.5 918.8,1043.3 920,1043.2 921.2,1045 922.5,1044.7 923.8,1044.3 925,1043.4 926.2,1043.4 927.5,1043.4 928.8,1043.8 930,1043.2 931.2,1043.7 932.5,1043.5 933.8,1043.5 935,1044.5 936.2,1044.1 937.5,1044.1 938.8,1043.9 940,1044.3 941.2,1044.8 942.5,1043.8 943.8,1043.3 945,1044.2 946.2,1043.9 947.5,1044.8 948.8,1043.3 950,1045 951.2,1043.1 952.5,1044.3 953.8,1044.1 955,1043.8 956.2,1045.1 957.5,1044.6 958.8,1043.5 960,1044.2 961.2,1044.4 962.5,1043.2 963.8,1043.3 965,1044.4 966.2,1044.7 967.5,1044.1 968.8,1044 970,1044.2 971.2,1043.7 972.5,1045 973.8,1045.2 975,1044.2 976.2,1043.1 977.5,1044 978.8,1044.9 980,1043.8 981.2,1043.3 982.5,1043.5 983.8,1044.7 985,1044.5 986.2,1043.7 987.5,1044.5 988.8,1044.8 990,1045.2 991.2,1044.9 992.5,1044.1 993.8,1044.9 995,1045.1 996.2,1044.5 997.5,1043.3 998.8,1042 1000,1040.9 1001.2,1040.7 1002.5,1039.3 1003.8,1038.5 1005,1036.5 1006.2,1035.3 1007.5,1034.7 1008.8,1034.5 1010,1033.5 1011.2,1031.7 1012.5,1030.8 1013.8,1031.5 1015,1028.6 1016.2,1029.6 1017.5,1028.3 1018.8,1026.9 1020,1026.9 1021.2,1025.3 1022.5,1022.8 1023.8,1023.9 1025,1021.8 1026.2,1022 1027.5,1020.8 1028.8,1018.4 1030,1017.3 1031.2,1016.3 1032.5,1017 1033.8,1016.1 1035,1013.9 1036.2,1012.7 1037.5,1012.3 1038.8,1012.3 1040,1011.3 1041.2,1010.6 1042.5,1009.9 1043.8,1008.5 1045,1007.7 1046.2,1005 1047.5,1004 1048.8,1004.9 1050,1003.5 1051.2,1001.9 1052.5,1000.5 1053.8,1000 1055,999.1 1056.2,998.5 1057.5,997.4 1058.8,995.9 1060,994.7 1061.2,994.1 1062.5,993 1063.8,991.9 1065,991.7 1066.2,990.1 1067.5,990.7 1068.8,989.2 1070,988 1071.2,987.5 1072.5,985.6 1073.8,984.2 1075,983.4 1076.2,983 1077.5,982.2 1078.8,981 1080,980.2 1081.2,980.4 1082.5,977.6 1083.8,977.6 1085,976.6 1086.2,975.4 1087.5,975.4 1088.8,973.4 1090,972 1091.2,971.4 1092.5,972.2 1093.8,969.9 1095,968.4 1096.2,969.4 1097.5,967.7 1098.8,967.5 1100,965.1 1101.2,965.2 1102.5,962.6 1103.8,962.1 1105,962.4 1106.2,960.8 1107.5,960.5 1108.8,958.7 1110,958.8 1111.2,956.1 1112.5,956.4 1113.8,954.5 1115,953.5 1116.2,954.1 1117.5,952.2 1118.8,952.1 1120,950 1121.2,950 1122.5,949.4 1123.8,947.9 1125,946.1 1126.2,946.1 1127.5,945.8 1128.8,944.5 1130,942.8 1131.2,941.7 1132.5,940.1 1133.8,940.7 1135,938.4 1136.2,937.6 1137.5,936.2 1138.8,935.6 1140,935.1 1141.2,934.4 1142.5,932.8 1143.8,932.4 1145,932.2 1146.2,929.8 1147.5,928.9 1148.8,928.8 1150,928.7 1151.2,927.8 1152.5,926.1 1153.8,924.1 1155,924.9 1156.2,924.2 1157.5,923 1158.8,921.3 1160,920 1161.2,919.5 1162.5,919 1163.8,918.5 1165,916.5 1166.2,915.6 1167.5,914.2 1168.8,913.8 1170,912.8 1171.2,911.3 1172.5,910.8 1173.8,910.8 1175,908.4 1176.2,907.5 1177.5,906.7 1178.8,906.9 1180,904.8 1181.2,905.9 1182.5,906.1 1183.8,906 1185,905.9 1186.2,904.5 1187.5,905.1 1188.8,905.9 1190,904.6 1191.2,905.4 1192.5,906 1193.8,906.2 1195,904.9 1196.2,904.4 1197.5,904.2 1198.8,904.8 1200,905.3 1201.2,904.7 1202.5,905.9 1203.8,905.5 1205,905.5 1206.2,905.9 1207.5,904.8 1208.8,905.5 1210,904.9 1211.2,904.7 1212.5,904.4 1213.8,905.8 1215,906.1 1216.2,904.2 1217.5,905.7 1218.8,904.2 1220,905 1221.2,904.8 1222.5,906.1 1223.8,905.1 1225,905.2 1226.2,904.9 1227.5,904.7 1228.8,904.6 1230,904.2 1231.2,904.1 1232.5,905.3 1233.8,905.7 1235,905.6 1236.2,904.7 1237.5,906.3 1238.8,904.3 1240,905 1241.2,904.8 1242.5,904.5 1243.8,906.2 1245,905.7 1246.2,904.4 1247.5,904.5 1248.8,905.9 1250,904.9 1251.2,904.8 1252.5,904.8 1253.8,904.8 1255,905.4 1256.2,904.8 1257.5,905.4 1258.8,904.2 1260,905.3 1261.2,905.4 1262.5,904.8 1263.8,906 1265,906.1 1266.2,905.5 1267.5,905 1268.8,904.5 1270,905.5 1271.2,904.7 1272.5,904.5 1273.8,905.3 1275,904.5 1276.2,905.5 1277.5,905.8 1278.8,904.1 1280,905.5 1281.2,904.5 1282.5,904.8 1283.8,905.7 1285,906.2 1286.2,904.8 1287.5,905.8 1288.8,904.9 1290,906.2 1291.2,904.5 1292.5,905.6 1293.8,904.3 1295,905.3 1296.2,905.7 1297.5,906.1 1298.8,905.8 1300,905.3 1301.2,905 1302.5,905.5 1303.8,905.5 1305,905.4 1306.2,905.7 1307.5,905.7 1308.8,906.2 1310,905.5 1311.2,906 1312.5,905.7 1313.8,904.9 1315,905.9 1316.2,904.9 1317.5,905.9 1318.8,906 1320,906.1 1321.2,906.1 1322.5,905.6 1323.8,905.2 1325,904.7 1326.2,905.5 1327.5,906.1 1328.8,904.9 1330,904.6 1331.2,905.8 1332.5,906.1 1333.8,904.6 1335,904.4"/>
<line x1="996" y1="1077.3" x2="1183.5" y2="1077.3" stroke="#333" stroke-width="1.6" />
<line x1="996.4" y1="1071" x2="996.4" y2="1078" stroke="#333" stroke-width="1.3" />
<line x1="1089.4" y1="1071" x2="1089.4" y2="1078" stroke="#333" stroke-width="1.3" />
<line x1="1183" y1="1071" x2="1183" y2="1078" stroke="#333" stroke-width="1.3" />
<text transform="translate(996.9,1103.2) scale(0.92,1)" font-size="23" text-anchor="middle">0</text>
<text transform="translate(1089.7,1103.2) scale(0.96,1)" font-size="23" text-anchor="middle">0.5</text>
<text transform="translate(1183,1103.2) scale(0.9,1)" font-size="23" text-anchor="middle">1</text>
<text transform="translate(1007.4,1147.8) scale(0.993,1)" font-size="31.1">Time (sec.)</text>
<line x1="177.9" y1="1216.8" x2="177.9" y2="1589.6" stroke="#333" stroke-width="2.2" />
<line x1="176.9" y1="1588.6" x2="647.5" y2="1588.6" stroke="#333" stroke-width="2" />
<line x1="177.9" y1="1217.6" x2="183.4" y2="1217.6" stroke="#333" stroke-width="1.3" />
<text transform="translate(165.5,1227.9) scale(0.96,1)" font-size="23.5" text-anchor="end">2</text>
<line x1="177.9" y1="1286.3" x2="183.4" y2="1286.3" stroke="#333" stroke-width="1.3" />
<text transform="translate(165.5,1296.6) scale(0.96,1)" font-size="23.5" text-anchor="end">1.5</text>
<line x1="177.9" y1="1355" x2="183.4" y2="1355" stroke="#333" stroke-width="1.3" />
<text transform="translate(165.5,1365.3) scale(0.96,1)" font-size="23.5" text-anchor="end">1</text>
<line x1="177.9" y1="1423.7" x2="183.4" y2="1423.7" stroke="#333" stroke-width="1.3" />
<text transform="translate(165.5,1434) scale(0.96,1)" font-size="23.5" text-anchor="end">0.5</text>
<line x1="177.9" y1="1492.4" x2="183.4" y2="1492.4" stroke="#333" stroke-width="1.3" />
<text transform="translate(165.5,1502.7) scale(0.96,1)" font-size="23.5" text-anchor="end">0</text>
<line x1="177.9" y1="1561.1" x2="183.4" y2="1561.1" stroke="#333" stroke-width="1.3" />
<text transform="translate(165.5,1571.4) scale(0.96,1)" font-size="23.5" text-anchor="end">-0.5</text>
<line x1="271.7" y1="1583.6" x2="271.7" y2="1588.6" stroke="#333" stroke-width="1.3" />
<line x1="365.5" y1="1583.6" x2="365.5" y2="1588.6" stroke="#333" stroke-width="1.3" />
<line x1="459.3" y1="1583.6" x2="459.3" y2="1588.6" stroke="#333" stroke-width="1.3" />
<line x1="553.1" y1="1583.6" x2="553.1" y2="1588.6" stroke="#333" stroke-width="1.3" />
<line x1="646.9" y1="1583.6" x2="646.9" y2="1588.6" stroke="#333" stroke-width="1.3" />
<text transform="translate(178,1617.2) scale(0.915,1)" font-size="25" text-anchor="middle">0</text>
<text transform="translate(271.6,1617.2) scale(0.915,1)" font-size="25" text-anchor="middle">100</text>
<text transform="translate(365.1,1617.2) scale(0.915,1)" font-size="25" text-anchor="middle">200</text>
<text transform="translate(458.7,1617.2) scale(0.915,1)" font-size="25" text-anchor="middle">300</text>
<text transform="translate(552.2,1617.2) scale(0.915,1)" font-size="25" text-anchor="middle">400</text>
<text transform="translate(645.8,1617.2) scale(0.915,1)" font-size="25" text-anchor="middle">500</text>
<line x1="177.9" y1="1323.3" x2="646.9" y2="1323.3" stroke="#222" stroke-width="2.2" />
<line x1="177.9" y1="1379.2" x2="646.9" y2="1379.2" stroke="#333" stroke-width="1.5" />
<line x1="180" y1="1351.3" x2="646.9" y2="1351.3" stroke="#666" stroke-width="0.9" stroke-dasharray="1.2 4.2"/>
<polyline fill="none" stroke="#1c1c1c" stroke-width="1.45" stroke-linejoin="round"  points="178.8,1456.5 181.8,1498.8 184.4,1470 186.9,1469.2 187.8,1473.4 188.9,1392.2 190.6,1265.4 192,1358.4 193.7,1459.9 195,1483.6 197.1,1448 198.4,1459.9 199.6,1472.6 201,1409.1 202.5,1343.2 203.8,1348.2 205.5,1392.2 207.5,1448 209.2,1455.6 211.4,1426 213.6,1400.7 215.3,1417.6 217.7,1441.3 219,1429.4 220.7,1446.3 222.8,1426 223.8,1375.3 225,1289 226.7,1321.2 228.4,1366.8 230.5,1395.6 232.2,1400.7 234.3,1426 235.6,1392.2 237.1,1329.6 238.5,1366.8 240.7,1412.5 242.4,1422.7 244.1,1437 246.1,1417.6 248.3,1393.9 250.3,1400.7 252,1414.2 253.7,1357.5 255.4,1375.3 257.1,1422.7 258.8,1392.2 260.8,1300.9 262.2,1358.4 263,1408.3 265.1,1400.7 267.3,1392.2 268.9,1399 270.1,1358.4 271.8,1304.3 273.5,1334.7 275.2,1375.3 276.6,1393.9 278.2,1361.8 279.9,1388.8 281.6,1358.4 283.7,1311 285.3,1334.7 287,1383.8 288.7,1368.5 290.4,1356.7 292.1,1349.9 293.1,1361.8 294.3,1316.1 295.5,1281.4 296.8,1316.1 298.5,1341.5 300.2,1349.9 302.3,1388.8 304.5,1355 307,1324.6 308.7,1358.4 310,1377 312.1,1373.6 313.3,1380.4 315.1,1368.5 316.8,1348.2 318.5,1329.6 320.2,1338.1 321.9,1358.4 323.6,1375.3 325.6,1351.6 327.3,1358.4 329,1327.9 330,1309.3 330.5,1309.3 332,1333.6 333.5,1358.4 334.5,1350.6 335.6,1344.9 336.7,1353 337.8,1366.8 339,1353.7 340.3,1334.7 341.6,1304.1 342.8,1281.4 343.9,1303 345,1324.6 346,1340.4 347.1,1349.9 348.3,1357.6 349.6,1371.9 350.7,1353.8 351.8,1334.7 352.8,1314.1 353.8,1291.6 354.8,1309.5 355.9,1334.7 357.5,1356.7 359.2,1370.2 360.3,1364.6 361.4,1360.9 363.1,1360.1 364.8,1341.5 366.5,1351.6 368.2,1323.7 369.2,1352.8 370.2,1378.7 371.3,1369.8 372.4,1361.8 373.7,1359.3 375,1353.3 376.2,1343 377.5,1338.1 379.2,1356.7 380.9,1356.7 381.9,1362.2 382.9,1371.9 384,1374.7 385.1,1383.8 386.4,1360.6 387.7,1337.3 388.9,1354.6 390.2,1365.2 391.9,1353.3 393.2,1364.2 394.4,1373.6 396.1,1366.8 397.8,1382.1 399.1,1364 400.3,1341.5 401.6,1345.6 402.9,1351.6 404.6,1352.5 405.8,1358.7 407.1,1360.9 408.4,1357.3 409.6,1360.1 411.3,1344.9 413,1361.8 414.7,1341.5 416,1354.2 417.3,1370.2 418.5,1372.5 419.8,1371.9 421.5,1375.3 422.7,1361 424,1343.2 425.7,1365.2 427,1356.9 428.2,1349.9 429.9,1351.6 431.6,1362.6 432.6,1358.9 433.7,1361.8 434.8,1349.8 435.9,1341.5 437.1,1346.8 438.4,1356.7 439.4,1360.9 440.4,1368.5 442.1,1365.2 443.5,1352.4 444.8,1334.7 445.8,1337.4 446.8,1344.9 448.1,1350.5 449.4,1349.9 450.5,1349.6 451.6,1343.2 452.6,1338.8 453.6,1341.5 455.3,1368.5 456.6,1351.9 457.8,1337.3 459.1,1344.4 460.4,1351.6 461.6,1333.9 462.9,1323.7 464,1333.7 465.1,1344.9 466.3,1365.9 467.5,1380.4 468.8,1352.8 470.2,1331.3 471.2,1335.5 472.2,1338.1 473.6,1355 474.8,1334.7 476.4,1349.9 477.7,1363.8 479,1383.8 480,1368.5 480.9,1352.1 482,1356.7 483.1,1355 484.2,1352.2 485.3,1354.2 487.2,1349.9 488.9,1338.2 490.7,1348.4 492.6,1363.7 493.8,1348.8 495,1341.9 496.9,1355.7 498.8,1365.2 499.8,1357.8 500.9,1357.1 502.2,1360.4 503.5,1363 504.6,1351.8 505.7,1348.4 506.9,1352 508.1,1362.2 510,1351.3 511.1,1352.8 512.2,1354.2 513.3,1362 514.4,1363 515.5,1352.1 516.6,1342.6 518,1344 519.1,1332.3 520.2,1322.2 521.7,1317.1 523.1,1322.2 525,1360.1 526.8,1339.7 528.2,1347 529.7,1339 531.1,1365.9 532.4,1352.8 533.8,1337.5 534.8,1338.2 535.8,1345.5 537.7,1365.9 539.1,1355.6 540.6,1344 542.1,1335.6 543.5,1332.4 544.6,1339.1 545.7,1344 547.1,1358.6 548.6,1365.9 549.7,1350.7 550.8,1342.6 551.9,1347.4 553,1351.3 554.4,1342.6 556.2,1368.1 557.3,1356.2 558.5,1342.6 559.7,1351.1 561,1365.2 562.9,1341.9 563.9,1352 564.9,1365.9 566.1,1361.8 567.2,1349.9 569,1353.5 570.4,1341.1 571.5,1352.4 572.6,1355.7 573.6,1366.6 574.9,1358.1 576.3,1355.7 578,1357.1 579.9,1377.5 581,1371.2 582.1,1361.5 583.5,1353.5 584.8,1370.6 586,1380.4 587.9,1344 589,1336.1 590.1,1332.4 592,1358.6 593.7,1354.2 594.8,1350 595.9,1344 597.1,1349.9 598.4,1363 600.3,1346.2 601.5,1355.3 602.8,1366.6 604.6,1355.7 605.7,1350.9 606.8,1343.3 608.3,1351.7 609.7,1358.6 611.5,1363 612.6,1366.6 613.8,1365.9 615.1,1353.8 616.3,1348.4 618.2,1343.3 619.9,1352.8 621,1358.1 622.1,1365.9 623.2,1365.2 624.3,1358.6 626,1349.9 627.9,1329.5 629.8,1347 630.8,1353.1 631.9,1357.9 633.2,1352.8 634.5,1348.4 635.6,1348.4 636.7,1349.9 637.9,1347.2 639.1,1336.8 640.3,1342.1 641.5,1346.2 643.2,1336.8 644.7,1338.2 646.4,1323.7"/>
<text transform="translate(92.8,1479.2) rotate(-90) scale(1.053,1)" font-size="31">log<tspan font-size="22" dy="15.4">10</tspan><tspan dy="-15.4"> f</tspan><tspan font-size="22" dy="15.4">xx</tspan><tspan dy="-15.4">(λ)</tspan></text>
<text x="308" y="1665.6" font-size="31">frequency (s<tspan font-size="23.5" dy="-17.6" dx="4">-1</tspan><tspan dy="17.6" dx="1">)</tspan></text>
<line x1="885" y1="1216.8" x2="885" y2="1589.6" stroke="#555" stroke-width="2.2" />
<line x1="884" y1="1588.6" x2="1353.2" y2="1588.6" stroke="#555" stroke-width="2" />
<line x1="885" y1="1217.6" x2="890.5" y2="1217.6" stroke="#555" stroke-width="1.3" />
<text transform="translate(872.5,1227.9) scale(0.96,1)" font-size="23.5" text-anchor="end">2</text>
<line x1="885" y1="1286.3" x2="890.5" y2="1286.3" stroke="#555" stroke-width="1.3" />
<text transform="translate(872.5,1296.6) scale(0.96,1)" font-size="23.5" text-anchor="end">1.5</text>
<line x1="885" y1="1355" x2="890.5" y2="1355" stroke="#555" stroke-width="1.3" />
<text transform="translate(872.5,1365.3) scale(0.96,1)" font-size="23.5" text-anchor="end">1</text>
<line x1="885" y1="1423.7" x2="890.5" y2="1423.7" stroke="#555" stroke-width="1.3" />
<text transform="translate(872.5,1434) scale(0.96,1)" font-size="23.5" text-anchor="end">0.5</text>
<line x1="885" y1="1492.4" x2="890.5" y2="1492.4" stroke="#555" stroke-width="1.3" />
<text transform="translate(872.5,1502.7) scale(0.96,1)" font-size="23.5" text-anchor="end">0</text>
<line x1="885" y1="1561.1" x2="890.5" y2="1561.1" stroke="#555" stroke-width="1.3" />
<text transform="translate(872.5,1571.4) scale(0.96,1)" font-size="23.5" text-anchor="end">-0.5</text>
<line x1="978.5" y1="1583.6" x2="978.5" y2="1588.6" stroke="#555" stroke-width="1.3" />
<line x1="1072" y1="1583.6" x2="1072" y2="1588.6" stroke="#555" stroke-width="1.3" />
<line x1="1165.6" y1="1583.6" x2="1165.6" y2="1588.6" stroke="#555" stroke-width="1.3" />
<line x1="1259.1" y1="1583.6" x2="1259.1" y2="1588.6" stroke="#555" stroke-width="1.3" />
<line x1="1352.6" y1="1583.6" x2="1352.6" y2="1588.6" stroke="#555" stroke-width="1.3" />
<text transform="translate(884.5,1617.2) scale(0.915,1)" font-size="25" text-anchor="middle">0</text>
<text transform="translate(978,1617.2) scale(0.915,1)" font-size="25" text-anchor="middle">100</text>
<text transform="translate(1071.5,1617.2) scale(0.915,1)" font-size="25" text-anchor="middle">200</text>
<text transform="translate(1165,1617.2) scale(0.915,1)" font-size="25" text-anchor="middle">300</text>
<text transform="translate(1258.5,1617.2) scale(0.915,1)" font-size="25" text-anchor="middle">400</text>
<text transform="translate(1332.6,1617.2) scale(0.92,1)" font-size="25">500</text>
<rect x="1371.6" y="1603" width="2.4" height="11" fill="#444"/>
<line x1="885" y1="1504.1" x2="1352.9" y2="1504.1" stroke="#666" stroke-width="1.5" />
<line x1="885" y1="1561.8" x2="1352.9" y2="1561.8" stroke="#222" stroke-width="1.8" />
<polyline fill="none" stroke="#1c1c1c" stroke-width="1.4" stroke-linejoin="round"  points="885.5,1544.6 886.3,1550.2 886.9,1554.8 887.6,1556.4 888.5,1551.8 889.3,1547.4 890,1537.3 891.8,1535.5 892.7,1531.4 893.4,1528.2 894.2,1519.1 895,1520.4 895.7,1528.7 896.4,1533.7 897.3,1547.7 898,1552.9 898.7,1560.1 899.6,1550.9 900.2,1533.7 900.9,1526.4 902.7,1513.7 904.6,1550 905.5,1541.5 906.2,1532.9 906.9,1528.2 907.8,1526.9 908.4,1525.8 909.1,1523.7 909.9,1520.3 910.6,1523 911.3,1526.4 912.2,1531 912.9,1541.9 913.7,1543.7 914.5,1540.5 915.1,1530.7 915.8,1529.1 916.9,1540.1 917.7,1540.7 918.6,1551 919.5,1543.7 920.2,1532.7 920.9,1529.1 922.8,1539.1 923.7,1524.1 924.4,1523.7 925.1,1511.5 926.9,1526.4 928.8,1549.1 929.7,1541.3 930.5,1537.3 931.3,1535.5 932.3,1529.3 933,1520 933.9,1507.8 934.7,1515.8 935.3,1529.6 936,1533.7 936.9,1544.7 937.5,1554.4 938.2,1561.9 939.1,1549.9 939.8,1549.1 940.6,1537.3 941.4,1532.5 942.1,1529.8 942.8,1520 943.7,1528.4 944.4,1526.9 945.1,1532.8 946,1530.8 946.6,1528.5 947.3,1530.9 948.2,1531.6 948.8,1533.8 949.5,1540.9 950.5,1526.7 951.2,1519.6 952.1,1508.2 953.7,1526.4 955.5,1549.1 956.4,1536 957.1,1535.3 957.9,1526.4 958.7,1533.2 959.4,1539.5 960.1,1548.2 961.1,1541.4 961.9,1530.7 962.8,1522.8 963.7,1526.6 964.4,1532.5 965.2,1537.3 966,1543 966.6,1540.1 967.3,1547.3 968.5,1541.2 969.4,1524.5 970.4,1520 972.2,1531.8 973.1,1527.9 973.9,1523.8 974.6,1515.5 976.4,1531.8 978.3,1562.8 979.2,1545.7 979.9,1542.5 980.6,1529.1 981.6,1527.2 982.4,1528.6 983.2,1527.3 984.3,1529.1 985.1,1534.4 986.1,1543.7 987,1535.6 987.8,1538.5 988.6,1530 990.1,1538.2 991,1529.6 991.7,1530 992.4,1522.8 993.4,1529 994.2,1531.1 995,1529.1 995.9,1529.8 996.6,1531.5 997.4,1534.6 998.4,1534.1 999.2,1535.8 1000.1,1532.8 1000.9,1525.8 1001.6,1528.8 1002.3,1523.7 1003.2,1533.6 1003.9,1539.9 1004.6,1542.8 1005.5,1537.9 1006.1,1545.5 1006.8,1540.9 1007.6,1540 1008.2,1544.5 1008.8,1548.2 1009.8,1537.1 1010.6,1530.3 1011.4,1516.4 1013.2,1517.3 1014.1,1525.2 1014.8,1537.8 1015.6,1541.9 1017.4,1559.1 1018.5,1542.6 1019.5,1527.1 1020.5,1514.6 1022.3,1526.4 1023.2,1531 1023.9,1534.6 1024.7,1542.8 1025.6,1528.2 1027.4,1558.2 1028.4,1539.9 1029.2,1529.1 1030.1,1520 1031.9,1525.5 1032.8,1535.5 1033.5,1544.8 1034.3,1547.3 1035.1,1532.5 1035.8,1522.2 1036.5,1516.4 1038.3,1517.3 1039.1,1529.3 1039.8,1531.2 1040.5,1537.3 1041.4,1531.3 1042.1,1525.7 1042.8,1523.7 1043.7,1534.5 1044.3,1544.5 1045,1550 1046.1,1540 1046.9,1532 1047.8,1524.6 1048.7,1527.1 1049.4,1540.1 1050.1,1541.9 1051.2,1531.4 1052,1530.7 1052.9,1525.5 1053.7,1533.7 1054.3,1531.4 1055,1539.1 1055.9,1542.2 1056.6,1545 1057.4,1541.9 1058.2,1536.8 1058.9,1533.3 1059.6,1525.5 1060.3,1516.8 1060.9,1515.6 1061.6,1511.8 1062.4,1515.2 1063.1,1526.7 1063.8,1529.1 1065.6,1544.6 1067.4,1561 1068.4,1542.5 1069.3,1530.8 1070.1,1517.3 1071.2,1527.7 1072,1531 1072.9,1532.8 1074,1542.6 1075,1542.2 1076,1547.3 1077.3,1535.1 1078.4,1527.7 1079.6,1515.5 1080.5,1523.9 1081.2,1529.1 1082,1538.2 1083,1539.4 1083.8,1538.7 1084.7,1543.7 1085.7,1533.6 1086.6,1532 1087.4,1520 1088.3,1528.7 1088.9,1529.2 1089.6,1531.8 1090.5,1536.7 1091.2,1539.1 1092,1544.6 1093,1537.8 1093.8,1537 1094.7,1536.4 1096.5,1531.8 1097.6,1529.9 1098.4,1527.1 1099.3,1520 1101.1,1533.7 1102.1,1530.3 1102.9,1532.5 1103.8,1528.2 1105,1537.9 1106,1543 1107.1,1547.3 1108.5,1535.7 1109.5,1526.1 1110.7,1512.7 1112.5,1552.8 1113.4,1544.6 1114,1542.2 1114.7,1534.6 1116.5,1535.5 1118.4,1543.7 1119.2,1531 1119.8,1524.4 1120.5,1515.5 1123.2,1519.6 1125.4,1520.3 1127.6,1520 1128.7,1526.8 1129.5,1539.5 1130.4,1542.8 1131.8,1547.9 1132.8,1550.3 1134,1552.8 1135,1538 1135.9,1534.6 1136.7,1525.5 1137.6,1521.5 1138.2,1523.9 1138.9,1520.9 1139.8,1528.9 1140.5,1538.6 1141.3,1542.8 1142.3,1541.3 1143.1,1540.5 1144,1535.5 1145.3,1527.2 1146.2,1524.4 1147.3,1517.3 1148.1,1523.9 1148.8,1528.3 1149.5,1529.1 1151.3,1527.3 1152.3,1531.1 1153.1,1539.7 1154,1540.9 1155.4,1541.9 1156.5,1538.3 1157.7,1534.6 1158.7,1533.7 1159.5,1529.4 1160.4,1520.9 1161.2,1530.1 1161.9,1537.3 1162.6,1544.6 1163.7,1532.9 1164.6,1532.1 1165.5,1521.8 1166.7,1528.5 1167.6,1526.6 1168.6,1529.1 1169.8,1534.6 1170.7,1537.9 1171.7,1539.1 1173.5,1529.1 1175.3,1541.9 1176.3,1537 1177.2,1526.5 1178,1523.7 1178.9,1537.6 1179.6,1544.8 1180.4,1553.7 1181.4,1546.5 1182.3,1537.5 1183.1,1530.9 1184.2,1531.4 1185,1532.2 1185.9,1529.1 1186.7,1524.1 1187.3,1520 1188,1512.7 1188.9,1514 1189.7,1519.6 1190.4,1527.3 1191.3,1534.4 1192,1542.3 1192.8,1547.3 1193.6,1538.6 1194.3,1537.9 1195,1530.9 1196,1533.2 1196.8,1528.7 1197.7,1533.7 1198.7,1531 1199.5,1526.9 1200.4,1527.3 1201.5,1532.3 1202.3,1540.1 1203.1,1551 1204.3,1536.2 1205.3,1524.6 1206.2,1516.4 1208.1,1541.9 1209,1532.2 1209.7,1525.3 1210.4,1523.7 1212.2,1538.2 1213.3,1530.3 1214.1,1523.5 1215,1518.2 1215.8,1524 1216.5,1527.7 1217.2,1530.9 1218.6,1533.7 1220.4,1552.8 1221.7,1541.8 1222.7,1540.9 1223.7,1530 1224.5,1524.2 1225.2,1526.7 1225.9,1526.4 1226.7,1524.4 1227.4,1525.6 1228.1,1526.4 1229,1529.8 1229.7,1541.7 1230.4,1544.6 1231.3,1537.6 1231.9,1529.9 1232.6,1529.1 1233.7,1529.5 1234.5,1524.2 1235.4,1527.3 1236.5,1528.1 1237.3,1526.5 1238.3,1528.2 1239.4,1533.4 1240.4,1540.4 1241.4,1540 1242.4,1544.3 1243.2,1541.8 1244.1,1543.7 1244.9,1541 1245.6,1535.1 1246.3,1529.1 1247.2,1532.1 1247.9,1533.3 1248.6,1540 1249.5,1535 1250.1,1530.1 1250.8,1524.6 1251.9,1533.9 1252.7,1538.1 1253.5,1538.2 1254.4,1531.6 1255.2,1523.3 1255.9,1518.2 1256.8,1527.3 1257.5,1523.6 1258.3,1532.8 1260.1,1546.4 1261.1,1536.3 1261.8,1535.2 1262.6,1529.1 1263.5,1531.5 1264.3,1528.4 1265,1532.8 1266,1532.5 1266.9,1533.8 1267.7,1529.1 1268.8,1537.7 1269.6,1545.8 1270.5,1554.6 1271.5,1538 1272.3,1527.4 1273.2,1517.3 1274,1525.3 1274.7,1523 1275.4,1527.3 1276.5,1532.1 1277.4,1532.3 1278.3,1529.1 1279.7,1535.5 1280.8,1536.9 1281.9,1543.7 1282.8,1542.5 1283.4,1533.7 1284.1,1529.1 1284.9,1531.8 1285.6,1533.7 1286.3,1538.2 1287.2,1540.5 1287.9,1534.4 1288.7,1532.8 1289.7,1530.1 1290.5,1531.3 1291.4,1530.9 1292.2,1530.3 1292.9,1537 1293.6,1538.2 1294.5,1533.6 1295.2,1528.9 1295.9,1527.3 1296.8,1533.3 1297.6,1536.4 1298.3,1536.4 1299.3,1527.2 1300,1528 1300.9,1523.7 1301.8,1524.4 1302.5,1532.5 1303.2,1530.9 1304.1,1532.8 1304.8,1527.4 1305.6,1529.1 1306.6,1532.6 1307.3,1535.9 1308.1,1543.7 1309,1547 1309.7,1540 1310.5,1540.9 1311.5,1535.4 1312.4,1529 1313.2,1523.7 1315,1530.9 1315.9,1531.6 1316.5,1530.6 1317.2,1529.1 1318.3,1534.1 1319.2,1530.6 1320.1,1536.4 1321,1536 1321.6,1529.7 1322.3,1529.1 1323.2,1527.7 1323.8,1524.6 1324.5,1524.6 1325.4,1526.9 1326.1,1532.3 1326.9,1535.5 1327.8,1536.5 1328.5,1536.7 1329.2,1539.1 1330.1,1539.3 1330.7,1536.2 1331.4,1533.7 1333.2,1540 1334.3,1531 1335.1,1529.1 1336,1527.3 1337,1531.4 1337.8,1539.1 1338.7,1539.1 1339.7,1535 1340.6,1525.9 1341.4,1519.1 1342.5,1522 1343.3,1534.6 1344.2,1538.2 1345,1533.4 1345.6,1531.5 1346.3,1527.3 1347.2,1536.4 1348,1541.5 1348.7,1546.4 1350.5,1533.7 1351.4,1525.6 1352.1,1523.1 1352.9,1512.7"/>
<text transform="translate(802.6,1475.5) rotate(-90) scale(1.053,1)" font-size="31">log<tspan font-size="22" dy="15.4">10</tspan><tspan dy="-15.4"> f</tspan><tspan font-size="22" dy="15.4">xx</tspan><tspan dy="-15.4">(λ)</tspan></text>
<text x="1014.5" y="1665.6" font-size="31">frequency (s<tspan font-size="23.5" dy="-17.6" dx="4">-1</tspan><tspan dy="17.6" dx="1">)</tspan></text>
</g></svg></body></html>
